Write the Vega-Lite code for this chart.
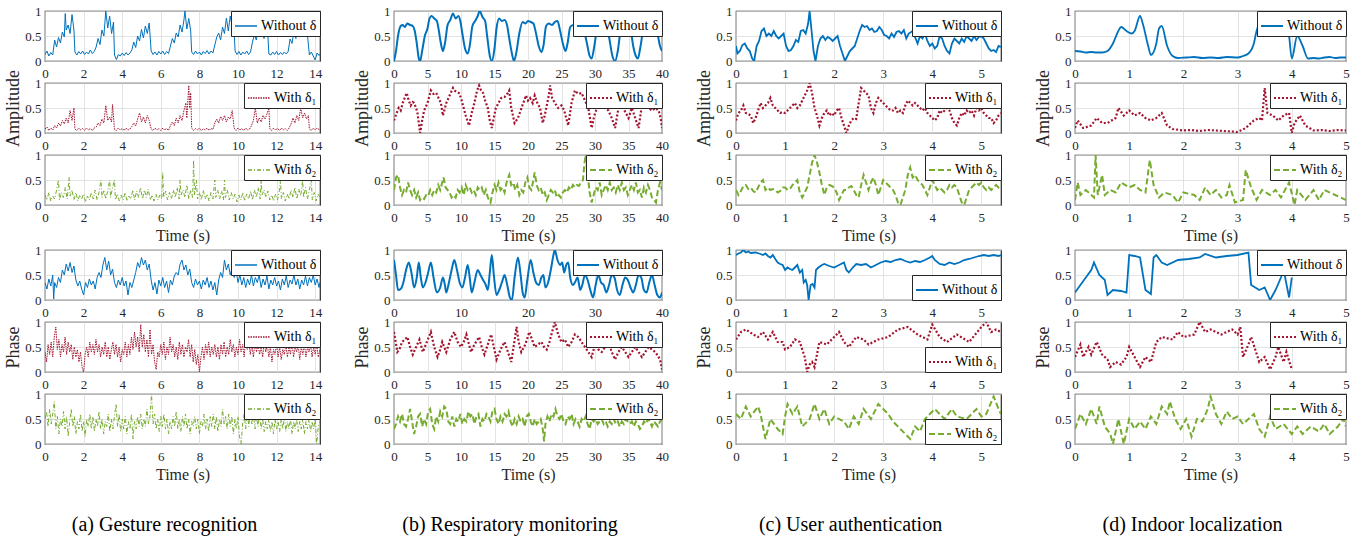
{
"$schema":"https://vega.github.io/schema/vega-lite/v6.json",
"autosize":{"type":"pad"},
"padding":{"left":4,"top":4,"right":0,"bottom":0},
"background":"white",
"config":{
 "font":"Liberation Serif, Times New Roman, DejaVu Serif, serif",
 "view":{"stroke":"#262626","strokeWidth":1.2},
 "axis":{"labelFont":"Liberation Serif, Times New Roman, DejaVu Serif, serif","labelFontSize":13,"labelColor":"#262626","domain":false,"ticks":false,"gridColor":"#dcdcdc","gridWidth":0.8,"labelFlush":false,"labelOverlap":false,"titleFont":"Liberation Serif, Times New Roman, DejaVu Serif, serif","titleFontWeight":"normal","titleColor":"#262626"},
 "axisX":{"labelPadding":6,"titleFontSize":16,"titlePadding":3,"format":"d"},
 "axisY":{"labelPadding":4,"titleFontSize":18,"titlePadding":2,"format":"~r"},
 "legend":{"orient":"top-right","offset":0,"fillColor":"white","strokeColor":"#262626","strokeWidth":1,"padding":3,"labelFont":"Liberation Serif, Times New Roman, DejaVu Serif, serif","labelFontSize":14,"labelColor":"black","symbolType":"stroke","symbolSize":484,"symbolStrokeWidth":2,"cornerRadius":0,"labelOffset":3},
 "title":{"font":"Liberation Serif, Times New Roman, DejaVu Serif, serif","fontSize":20,"fontWeight":"normal","color":"black"}
},
"bounds":"flush",
"columns":4,
"spacing":{"row":22,"column":74},
"resolve":{"scale":{"color":"independent"},"legend":{"color":"independent"}},
"datasets":{
"a1":[{"t":0,"v":0.13},{"t":0.1,"v":0.2},{"t":0.2,"v":0.1},{"t":0.3,"v":0.17},{"t":0.4,"v":0.12},{"t":0.5,"v":0.42},{"t":0.6,"v":0.28},{"t":0.7,"v":0.47},{"t":0.8,"v":0.36},{"t":0.9,"v":0.58},{"t":1.0,"v":0.48},{"t":1.05,"v":0.95},{"t":1.1,"v":0.62},{"t":1.2,"v":0.72},{"t":1.3,"v":0.55},{"t":1.4,"v":0.93},{"t":1.5,"v":0.62},{"t":1.55,"v":0.18},{"t":1.65,"v":0.12},{"t":1.75,"v":0.19},{"t":1.85,"v":0.14},{"t":1.95,"v":0.2},{"t":2.05,"v":0.13},{"t":2.15,"v":0.18},{"t":2.25,"v":0.14},{"t":2.35,"v":0.22},{"t":2.45,"v":0.15},{"t":2.55,"v":0.19},{"t":2.65,"v":0.28},{"t":2.75,"v":0.45},{"t":2.85,"v":0.33},{"t":2.95,"v":0.62},{"t":3.05,"v":0.5},{"t":3.15,"v":1.0},{"t":3.25,"v":0.66},{"t":3.35,"v":0.9},{"t":3.45,"v":0.55},{"t":3.55,"v":0.78},{"t":3.6,"v":0.12},{"t":3.7,"v":0.03},{"t":3.8,"v":0.13},{"t":3.9,"v":0.1},{"t":4.0,"v":0.16},{"t":4.1,"v":0.11},{"t":4.2,"v":0.17},{"t":4.3,"v":0.12},{"t":4.4,"v":0.16},{"t":4.5,"v":0.22},{"t":4.6,"v":0.38},{"t":4.7,"v":0.27},{"t":4.8,"v":0.5},{"t":4.9,"v":0.4},{"t":5.0,"v":0.63},{"t":5.1,"v":0.46},{"t":5.2,"v":0.7},{"t":5.3,"v":0.55},{"t":5.4,"v":0.76},{"t":5.5,"v":0.2},{"t":5.6,"v":0.13},{"t":5.7,"v":0.18},{"t":5.8,"v":0.12},{"t":5.9,"v":0.19},{"t":6.0,"v":0.14},{"t":6.1,"v":0.2},{"t":6.2,"v":0.13},{"t":6.3,"v":0.19},{"t":6.4,"v":0.15},{"t":6.5,"v":0.3},{"t":6.6,"v":0.45},{"t":6.7,"v":0.36},{"t":6.8,"v":0.56},{"t":6.9,"v":0.48},{"t":7.0,"v":0.72},{"t":7.1,"v":0.58},{"t":7.2,"v":0.82},{"t":7.25,"v":1.0},{"t":7.35,"v":0.64},{"t":7.45,"v":0.85},{"t":7.55,"v":0.6},{"t":7.6,"v":0.18},{"t":7.7,"v":0.13},{"t":7.8,"v":0.2},{"t":7.9,"v":0.14},{"t":8.0,"v":0.18},{"t":8.1,"v":0.12},{"t":8.2,"v":0.19},{"t":8.3,"v":0.15},{"t":8.4,"v":0.21},{"t":8.5,"v":0.14},{"t":8.6,"v":0.2},{"t":8.7,"v":0.16},{"t":8.8,"v":0.32},{"t":8.9,"v":0.48},{"t":9.0,"v":0.56},{"t":9.1,"v":0.42},{"t":9.2,"v":0.68},{"t":9.3,"v":0.55},{"t":9.4,"v":0.86},{"t":9.5,"v":0.6},{"t":9.6,"v":0.9},{"t":9.7,"v":0.7},{"t":9.75,"v":1.0},{"t":9.85,"v":0.2},{"t":9.95,"v":0.13},{"t":10.05,"v":0.19},{"t":10.15,"v":0.12},{"t":10.25,"v":0.18},{"t":10.35,"v":0.14},{"t":10.45,"v":0.2},{"t":10.55,"v":0.13},{"t":10.65,"v":0.18},{"t":10.75,"v":0.38},{"t":10.85,"v":0.52},{"t":10.95,"v":0.42},{"t":11.05,"v":0.62},{"t":11.15,"v":0.48},{"t":11.25,"v":0.58},{"t":11.35,"v":0.45},{"t":11.45,"v":0.6},{"t":11.55,"v":0.5},{"t":11.6,"v":0.14},{"t":11.7,"v":0.12},{"t":11.8,"v":0.18},{"t":11.9,"v":0.13},{"t":12.0,"v":0.19},{"t":12.1,"v":0.12},{"t":12.2,"v":0.17},{"t":12.3,"v":0.13},{"t":12.4,"v":0.18},{"t":12.5,"v":0.14},{"t":12.6,"v":0.19},{"t":12.7,"v":0.44},{"t":12.8,"v":0.35},{"t":12.9,"v":0.6},{"t":13.0,"v":0.45},{"t":13.1,"v":0.7},{"t":13.2,"v":0.55},{"t":13.3,"v":0.8},{"t":13.4,"v":0.6},{"t":13.5,"v":0.86},{"t":13.6,"v":0.52},{"t":13.7,"v":0.12},{"t":13.8,"v":0.18},{"t":13.9,"v":0.1},{"t":14.0,"v":0.02},{"t":14.1,"v":0.16},{"t":14.2,"v":0.11},{"t":14.25,"v":0.14}],
"a2":[{"t":0,"v":0.08},{"t":0.1,"v":0.12},{"t":0.2,"v":0.05},{"t":0.3,"v":0.1},{"t":0.4,"v":0.06},{"t":0.5,"v":0.15},{"t":0.6,"v":0.1},{"t":0.7,"v":0.2},{"t":0.8,"v":0.14},{"t":0.9,"v":0.25},{"t":1.0,"v":0.18},{"t":1.1,"v":0.3},{"t":1.2,"v":0.2},{"t":1.3,"v":0.45},{"t":1.4,"v":0.25},{"t":1.5,"v":0.5},{"t":1.55,"v":0.08},{"t":1.65,"v":0.05},{"t":1.75,"v":0.1},{"t":1.85,"v":0.06},{"t":1.95,"v":0.09},{"t":2.05,"v":0.05},{"t":2.15,"v":0.1},{"t":2.25,"v":0.06},{"t":2.35,"v":0.09},{"t":2.45,"v":0.05},{"t":2.55,"v":0.1},{"t":2.65,"v":0.12},{"t":2.75,"v":0.2},{"t":2.85,"v":0.15},{"t":2.95,"v":0.28},{"t":3.05,"v":0.2},{"t":3.15,"v":0.55},{"t":3.25,"v":0.25},{"t":3.35,"v":0.32},{"t":3.45,"v":0.22},{"t":3.5,"v":0.57},{"t":3.6,"v":0.07},{"t":3.7,"v":0.05},{"t":3.8,"v":0.1},{"t":3.9,"v":0.06},{"t":4.0,"v":0.09},{"t":4.1,"v":0.05},{"t":4.2,"v":0.1},{"t":4.3,"v":0.06},{"t":4.4,"v":0.08},{"t":4.5,"v":0.13},{"t":4.6,"v":0.2},{"t":4.7,"v":0.14},{"t":4.8,"v":0.28},{"t":4.9,"v":0.4},{"t":5.0,"v":0.22},{"t":5.1,"v":0.32},{"t":5.2,"v":0.2},{"t":5.3,"v":0.35},{"t":5.4,"v":0.25},{"t":5.5,"v":0.08},{"t":5.6,"v":0.05},{"t":5.7,"v":0.1},{"t":5.8,"v":0.06},{"t":5.9,"v":0.09},{"t":6.0,"v":0.05},{"t":6.1,"v":0.1},{"t":6.2,"v":0.06},{"t":6.3,"v":0.09},{"t":6.4,"v":0.05},{"t":6.5,"v":0.15},{"t":6.6,"v":0.22},{"t":6.7,"v":0.15},{"t":6.8,"v":0.3},{"t":6.9,"v":0.2},{"t":7.0,"v":0.35},{"t":7.1,"v":0.25},{"t":7.2,"v":0.45},{"t":7.3,"v":0.6},{"t":7.35,"v":0.3},{"t":7.45,"v":0.95},{"t":7.5,"v":0.5},{"t":7.55,"v":0.8},{"t":7.6,"v":0.1},{"t":7.7,"v":0.05},{"t":7.8,"v":0.09},{"t":7.9,"v":0.06},{"t":8.0,"v":0.1},{"t":8.1,"v":0.05},{"t":8.2,"v":0.08},{"t":8.3,"v":0.06},{"t":8.4,"v":0.1},{"t":8.5,"v":0.05},{"t":8.6,"v":0.09},{"t":8.7,"v":0.07},{"t":8.8,"v":0.2},{"t":8.9,"v":0.28},{"t":9.0,"v":0.2},{"t":9.1,"v":0.33},{"t":9.2,"v":0.25},{"t":9.3,"v":0.35},{"t":9.4,"v":0.22},{"t":9.5,"v":0.32},{"t":9.6,"v":0.28},{"t":9.7,"v":0.45},{"t":9.8,"v":0.1},{"t":9.9,"v":0.05},{"t":10.0,"v":0.1},{"t":10.1,"v":0.06},{"t":10.2,"v":0.09},{"t":10.3,"v":0.05},{"t":10.4,"v":0.1},{"t":10.5,"v":0.06},{"t":10.6,"v":0.08},{"t":10.7,"v":0.15},{"t":10.8,"v":0.25},{"t":10.9,"v":0.5},{"t":11.0,"v":0.2},{"t":11.1,"v":0.3},{"t":11.2,"v":0.22},{"t":11.3,"v":0.35},{"t":11.4,"v":0.28},{"t":11.5,"v":0.38},{"t":11.6,"v":0.5},{"t":11.65,"v":0.08},{"t":11.75,"v":0.05},{"t":11.85,"v":0.1},{"t":11.95,"v":0.06},{"t":12.05,"v":0.09},{"t":12.15,"v":0.05},{"t":12.25,"v":0.1},{"t":12.35,"v":0.06},{"t":12.45,"v":0.09},{"t":12.55,"v":0.05},{"t":12.65,"v":0.1},{"t":12.75,"v":0.18},{"t":12.85,"v":0.3},{"t":12.95,"v":0.2},{"t":13.05,"v":0.35},{"t":13.15,"v":0.25},{"t":13.25,"v":0.5},{"t":13.35,"v":0.3},{"t":13.45,"v":0.4},{"t":13.55,"v":0.28},{"t":13.65,"v":0.35},{"t":13.7,"v":0.08},{"t":13.8,"v":0.05},{"t":13.9,"v":0.1},{"t":14.0,"v":0.06},{"t":14.1,"v":0.1},{"t":14.2,"v":0.07},{"t":14.25,"v":0.09}],
"a3":[{"t":0,"v":0.2},{"t":0.1,"v":0.1},{"t":0.2,"v":0.25},{"t":0.3,"v":0.08},{"t":0.4,"v":0.18},{"t":0.5,"v":0.12},{"t":0.6,"v":0.3},{"t":0.7,"v":0.5},{"t":0.75,"v":0.1},{"t":0.85,"v":0.25},{"t":0.95,"v":0.15},{"t":1.05,"v":0.35},{"t":1.15,"v":0.12},{"t":1.25,"v":0.55},{"t":1.3,"v":0.18},{"t":1.4,"v":0.3},{"t":1.5,"v":0.1},{"t":1.6,"v":0.25},{"t":1.7,"v":0.08},{"t":1.8,"v":0.2},{"t":1.9,"v":0.12},{"t":2.0,"v":0.22},{"t":2.1,"v":0.06},{"t":2.2,"v":0.18},{"t":2.3,"v":0.1},{"t":2.4,"v":0.25},{"t":2.5,"v":0.12},{"t":2.6,"v":0.3},{"t":2.7,"v":0.1},{"t":2.8,"v":0.25},{"t":2.9,"v":0.5},{"t":2.95,"v":0.15},{"t":3.05,"v":0.3},{"t":3.15,"v":0.12},{"t":3.25,"v":0.28},{"t":3.35,"v":0.5},{"t":3.4,"v":0.15},{"t":3.5,"v":0.35},{"t":3.6,"v":0.5},{"t":3.65,"v":0.1},{"t":3.75,"v":0.22},{"t":3.85,"v":0.08},{"t":3.95,"v":0.2},{"t":4.05,"v":0.1},{"t":4.15,"v":0.25},{"t":4.25,"v":0.08},{"t":4.35,"v":0.18},{"t":4.45,"v":0.12},{"t":4.55,"v":0.3},{"t":4.65,"v":0.1},{"t":4.75,"v":0.28},{"t":4.85,"v":0.15},{"t":4.95,"v":0.35},{"t":5.05,"v":0.12},{"t":5.15,"v":0.3},{"t":5.25,"v":0.15},{"t":5.35,"v":0.32},{"t":5.45,"v":0.1},{"t":5.55,"v":0.2},{"t":5.65,"v":0.08},{"t":5.75,"v":0.22},{"t":5.85,"v":0.1},{"t":5.95,"v":0.2},{"t":6.05,"v":0.12},{"t":6.1,"v":0.65},{"t":6.15,"v":0.15},{"t":6.25,"v":0.28},{"t":6.35,"v":0.1},{"t":6.45,"v":0.25},{"t":6.55,"v":0.12},{"t":6.65,"v":0.3},{"t":6.75,"v":0.15},{"t":6.85,"v":0.35},{"t":6.95,"v":0.12},{"t":7.0,"v":0.5},{"t":7.05,"v":0.2},{"t":7.15,"v":0.3},{"t":7.25,"v":0.15},{"t":7.35,"v":0.4},{"t":7.45,"v":0.12},{"t":7.55,"v":0.3},{"t":7.65,"v":0.15},{"t":7.7,"v":0.9},{"t":7.75,"v":0.2},{"t":7.85,"v":0.5},{"t":7.9,"v":0.12},{"t":8.0,"v":0.25},{"t":8.1,"v":0.1},{"t":8.2,"v":0.3},{"t":8.3,"v":0.12},{"t":8.4,"v":0.22},{"t":8.5,"v":0.08},{"t":8.6,"v":0.25},{"t":8.7,"v":0.12},{"t":8.8,"v":0.5},{"t":8.85,"v":0.15},{"t":8.95,"v":0.3},{"t":9.05,"v":0.12},{"t":9.15,"v":0.28},{"t":9.25,"v":0.1},{"t":9.3,"v":0.5},{"t":9.35,"v":0.15},{"t":9.45,"v":0.3},{"t":9.55,"v":0.1},{"t":9.65,"v":0.25},{"t":9.75,"v":0.12},{"t":9.85,"v":0.22},{"t":9.95,"v":0.06},{"t":10.05,"v":0.2},{"t":10.15,"v":0.1},{"t":10.25,"v":0.25},{"t":10.35,"v":0.08},{"t":10.45,"v":0.22},{"t":10.55,"v":0.12},{"t":10.65,"v":0.28},{"t":10.75,"v":0.1},{"t":10.85,"v":0.3},{"t":10.95,"v":0.15},{"t":11.05,"v":0.35},{"t":11.15,"v":0.12},{"t":11.2,"v":0.5},{"t":11.25,"v":0.2},{"t":11.35,"v":0.3},{"t":11.45,"v":0.15},{"t":11.55,"v":0.28},{"t":11.65,"v":0.1},{"t":11.75,"v":0.2},{"t":11.85,"v":0.08},{"t":11.95,"v":0.22},{"t":12.05,"v":0.1},{"t":12.15,"v":0.3},{"t":12.2,"v":0.5},{"t":12.25,"v":0.12},{"t":12.35,"v":0.25},{"t":12.45,"v":0.08},{"t":12.55,"v":0.22},{"t":12.65,"v":0.12},{"t":12.75,"v":0.3},{"t":12.85,"v":0.15},{"t":12.95,"v":0.35},{"t":13.05,"v":0.12},{"t":13.15,"v":0.32},{"t":13.25,"v":0.18},{"t":13.35,"v":0.5},{"t":13.4,"v":0.15},{"t":13.5,"v":0.35},{"t":13.6,"v":0.12},{"t":13.7,"v":0.3},{"t":13.8,"v":0.5},{"t":13.85,"v":0.1},{"t":13.95,"v":0.25},{"t":14.05,"v":0.08},{"t":14.15,"v":0.22},{"t":14.25,"v":0.15}],
"a4":[{"t":0,"v":0.35},{"t":0.1,"v":0.22},{"t":0.2,"v":0.42},{"t":0.3,"v":0.28},{"t":0.4,"v":0.5},{"t":0.45,"v":0.02},{"t":0.5,"v":0.35},{"t":0.6,"v":0.25},{"t":0.7,"v":0.45},{"t":0.8,"v":0.35},{"t":0.9,"v":0.6},{"t":1.0,"v":0.5},{"t":1.1,"v":0.72},{"t":1.2,"v":0.58},{"t":1.3,"v":0.75},{"t":1.4,"v":0.55},{"t":1.5,"v":0.68},{"t":1.6,"v":0.4},{"t":1.7,"v":0.28},{"t":1.8,"v":0.38},{"t":1.9,"v":0.22},{"t":2.0,"v":0.1},{"t":2.1,"v":0.35},{"t":2.2,"v":0.25},{"t":2.3,"v":0.42},{"t":2.4,"v":0.3},{"t":2.5,"v":0.38},{"t":2.6,"v":0.22},{"t":2.7,"v":0.45},{"t":2.8,"v":0.55},{"t":2.9,"v":0.45},{"t":3.0,"v":0.7},{"t":3.1,"v":0.85},{"t":3.2,"v":0.6},{"t":3.3,"v":0.78},{"t":3.4,"v":0.5},{"t":3.5,"v":0.62},{"t":3.6,"v":0.35},{"t":3.7,"v":0.25},{"t":3.8,"v":0.4},{"t":3.9,"v":0.3},{"t":4.0,"v":0.45},{"t":4.1,"v":0.28},{"t":4.2,"v":0.38},{"t":4.3,"v":0.1},{"t":4.4,"v":0.35},{"t":4.5,"v":0.25},{"t":4.6,"v":0.4},{"t":4.7,"v":0.55},{"t":4.8,"v":0.75},{"t":4.9,"v":0.65},{"t":5.0,"v":0.85},{"t":5.1,"v":0.7},{"t":5.2,"v":0.8},{"t":5.3,"v":0.6},{"t":5.4,"v":0.72},{"t":5.5,"v":0.4},{"t":5.6,"v":0.2},{"t":5.7,"v":0.35},{"t":5.8,"v":0.12},{"t":5.9,"v":0.4},{"t":6.0,"v":0.28},{"t":6.1,"v":0.45},{"t":6.2,"v":0.25},{"t":6.3,"v":0.38},{"t":6.4,"v":0.15},{"t":6.5,"v":0.4},{"t":6.6,"v":0.3},{"t":6.7,"v":0.48},{"t":6.8,"v":0.55},{"t":6.9,"v":0.5},{"t":7.0,"v":0.72},{"t":7.1,"v":0.8},{"t":7.2,"v":0.6},{"t":7.3,"v":0.7},{"t":7.4,"v":0.5},{"t":7.5,"v":0.62},{"t":7.6,"v":0.35},{"t":7.7,"v":0.25},{"t":7.8,"v":0.42},{"t":7.9,"v":0.3},{"t":8.0,"v":0.38},{"t":8.1,"v":0.22},{"t":8.2,"v":0.4},{"t":8.3,"v":0.3},{"t":8.4,"v":0.45},{"t":8.5,"v":0.25},{"t":8.6,"v":0.38},{"t":8.7,"v":0.2},{"t":8.8,"v":0.35},{"t":8.9,"v":0.1},{"t":9.0,"v":0.4},{"t":9.1,"v":0.55},{"t":9.2,"v":0.45},{"t":9.3,"v":0.8},{"t":9.4,"v":0.6},{"t":9.5,"v":0.72},{"t":9.6,"v":0.5},{"t":9.7,"v":0.65},{"t":9.8,"v":0.45},{"t":9.9,"v":0.6},{"t":10.0,"v":0.35},{"t":10.1,"v":0.5},{"t":10.2,"v":0.3},{"t":10.3,"v":0.45},{"t":10.4,"v":0.25},{"t":10.5,"v":0.42},{"t":10.6,"v":0.3},{"t":10.7,"v":0.5},{"t":10.8,"v":0.28},{"t":10.9,"v":0.45},{"t":11.0,"v":0.35},{"t":11.1,"v":0.5},{"t":11.2,"v":0.25},{"t":11.3,"v":0.42},{"t":11.4,"v":0.3},{"t":11.5,"v":0.48},{"t":11.6,"v":0.22},{"t":11.7,"v":0.4},{"t":11.8,"v":0.3},{"t":11.9,"v":0.45},{"t":12.0,"v":0.28},{"t":12.1,"v":0.38},{"t":12.2,"v":0.2},{"t":12.3,"v":0.42},{"t":12.4,"v":0.3},{"t":12.5,"v":0.48},{"t":12.6,"v":0.25},{"t":12.7,"v":0.4},{"t":12.8,"v":0.32},{"t":12.9,"v":0.5},{"t":13.0,"v":0.3},{"t":13.1,"v":0.42},{"t":13.2,"v":0.22},{"t":13.3,"v":0.4},{"t":13.4,"v":0.3},{"t":13.5,"v":0.48},{"t":13.6,"v":0.28},{"t":13.7,"v":0.45},{"t":13.8,"v":0.35},{"t":13.9,"v":0.5},{"t":14.0,"v":0.3},{"t":14.1,"v":0.42},{"t":14.2,"v":0.25},{"t":14.25,"v":0.35}],
"a5":[{"t":0,"v":0.4},{"t":0.08,"v":0.2},{"t":0.16,"v":0.55},{"t":0.24,"v":0.35},{"t":0.32,"v":0.6},{"t":0.4,"v":0.3},{"t":0.48,"v":0.7},{"t":0.56,"v":0.9},{"t":0.64,"v":0.45},{"t":0.72,"v":0.65},{"t":0.8,"v":0.3},{"t":0.88,"v":0.55},{"t":0.96,"v":0.4},{"t":1.04,"v":0.7},{"t":1.12,"v":0.35},{"t":1.2,"v":0.6},{"t":1.28,"v":0.4},{"t":1.36,"v":0.55},{"t":1.44,"v":0.25},{"t":1.52,"v":0.5},{"t":1.6,"v":0.3},{"t":1.68,"v":0.45},{"t":1.76,"v":0.2},{"t":1.84,"v":0.4},{"t":1.92,"v":0.1},{"t":2.0,"v":0.0},{"t":2.08,"v":0.35},{"t":2.16,"v":0.5},{"t":2.24,"v":0.3},{"t":2.32,"v":0.6},{"t":2.4,"v":0.4},{"t":2.48,"v":0.55},{"t":2.56,"v":0.35},{"t":2.64,"v":0.65},{"t":2.72,"v":0.4},{"t":2.8,"v":0.55},{"t":2.88,"v":0.3},{"t":2.96,"v":0.5},{"t":3.04,"v":0.35},{"t":3.12,"v":0.6},{"t":3.2,"v":0.3},{"t":3.28,"v":0.5},{"t":3.36,"v":0.25},{"t":3.44,"v":0.45},{"t":3.52,"v":0.6},{"t":3.6,"v":0.35},{"t":3.68,"v":0.55},{"t":3.76,"v":0.3},{"t":3.84,"v":0.5},{"t":3.92,"v":0.2},{"t":4.0,"v":0.45},{"t":4.08,"v":0.35},{"t":4.16,"v":0.6},{"t":4.24,"v":0.3},{"t":4.32,"v":0.55},{"t":4.4,"v":0.35},{"t":4.48,"v":0.7},{"t":4.56,"v":0.45},{"t":4.64,"v":0.8},{"t":4.72,"v":0.5},{"t":4.8,"v":0.7},{"t":4.88,"v":0.4},{"t":4.96,"v":0.95},{"t":5.04,"v":0.5},{"t":5.12,"v":0.75},{"t":5.2,"v":0.4},{"t":5.28,"v":0.65},{"t":5.36,"v":0.3},{"t":5.44,"v":0.85},{"t":5.52,"v":0.35},{"t":5.6,"v":0.55},{"t":5.68,"v":0.2},{"t":5.76,"v":0.05},{"t":5.84,"v":0.4},{"t":5.92,"v":0.3},{"t":6.0,"v":0.55},{"t":6.08,"v":0.35},{"t":6.16,"v":0.6},{"t":6.24,"v":0.25},{"t":6.32,"v":0.5},{"t":6.4,"v":0.35},{"t":6.48,"v":0.7},{"t":6.56,"v":0.4},{"t":6.64,"v":0.55},{"t":6.72,"v":0.3},{"t":6.8,"v":0.5},{"t":6.88,"v":0.25},{"t":6.96,"v":0.6},{"t":7.04,"v":0.35},{"t":7.12,"v":0.55},{"t":7.2,"v":0.3},{"t":7.28,"v":0.5},{"t":7.36,"v":0.4},{"t":7.44,"v":0.65},{"t":7.52,"v":0.3},{"t":7.6,"v":0.55},{"t":7.68,"v":0.2},{"t":7.76,"v":0.45},{"t":7.84,"v":0.15},{"t":7.92,"v":0.35},{"t":8.0,"v":0.0},{"t":8.08,"v":0.3},{"t":8.16,"v":0.5},{"t":8.24,"v":0.25},{"t":8.32,"v":0.55},{"t":8.4,"v":0.35},{"t":8.48,"v":0.6},{"t":8.56,"v":0.3},{"t":8.64,"v":0.5},{"t":8.72,"v":0.35},{"t":8.8,"v":0.55},{"t":8.88,"v":0.3},{"t":8.96,"v":0.5},{"t":9.04,"v":0.25},{"t":9.12,"v":0.55},{"t":9.2,"v":0.35},{"t":9.28,"v":0.6},{"t":9.36,"v":0.3},{"t":9.44,"v":0.5},{"t":9.52,"v":0.35},{"t":9.6,"v":0.65},{"t":9.68,"v":0.4},{"t":9.76,"v":0.55},{"t":9.84,"v":0.3},{"t":9.92,"v":0.5},{"t":10.0,"v":0.35},{"t":10.08,"v":0.65},{"t":10.16,"v":0.4},{"t":10.24,"v":0.55},{"t":10.32,"v":0.3},{"t":10.4,"v":0.7},{"t":10.48,"v":0.45},{"t":10.56,"v":0.6},{"t":10.64,"v":0.35},{"t":10.72,"v":0.55},{"t":10.8,"v":0.3},{"t":10.88,"v":0.6},{"t":10.96,"v":0.4},{"t":11.04,"v":0.55},{"t":11.12,"v":0.35},{"t":11.2,"v":0.5},{"t":11.28,"v":0.3},{"t":11.36,"v":0.6},{"t":11.44,"v":0.4},{"t":11.52,"v":0.55},{"t":11.6,"v":0.3},{"t":11.68,"v":0.5},{"t":11.76,"v":0.2},{"t":11.84,"v":0.45},{"t":11.92,"v":0.35},{"t":12.0,"v":0.55},{"t":12.08,"v":0.3},{"t":12.16,"v":0.5},{"t":12.24,"v":0.25},{"t":12.32,"v":0.45},{"t":12.4,"v":0.35},{"t":12.48,"v":0.55},{"t":12.56,"v":0.3},{"t":12.64,"v":0.5},{"t":12.72,"v":0.35},{"t":12.8,"v":0.6},{"t":12.88,"v":0.3},{"t":12.96,"v":0.5},{"t":13.04,"v":0.4},{"t":13.12,"v":0.55},{"t":13.2,"v":0.25},{"t":13.28,"v":0.5},{"t":13.36,"v":0.35},{"t":13.44,"v":0.55},{"t":13.52,"v":0.3},{"t":13.6,"v":0.5},{"t":13.68,"v":0.4},{"t":13.76,"v":0.55},{"t":13.84,"v":0.3},{"t":13.92,"v":0.5},{"t":14.0,"v":0.35},{"t":14.08,"v":0.55},{"t":14.16,"v":0.3},{"t":14.25,"v":0.45}],
"a6":[{"t":0,"v":0.5},{"t":0.08,"v":0.65},{"t":0.16,"v":0.35},{"t":0.24,"v":0.7},{"t":0.32,"v":0.4},{"t":0.4,"v":0.6},{"t":0.48,"v":0.85},{"t":0.56,"v":0.3},{"t":0.64,"v":0.55},{"t":0.72,"v":0.2},{"t":0.8,"v":0.5},{"t":0.88,"v":0.35},{"t":0.96,"v":0.65},{"t":1.04,"v":0.3},{"t":1.12,"v":0.55},{"t":1.2,"v":0.15},{"t":1.28,"v":0.45},{"t":1.36,"v":0.7},{"t":1.44,"v":0.35},{"t":1.52,"v":0.55},{"t":1.6,"v":0.2},{"t":1.68,"v":0.45},{"t":1.76,"v":0.3},{"t":1.84,"v":0.6},{"t":1.92,"v":0.25},{"t":2.0,"v":0.45},{"t":2.08,"v":0.15},{"t":2.16,"v":0.5},{"t":2.24,"v":0.35},{"t":2.32,"v":0.6},{"t":2.4,"v":0.3},{"t":2.48,"v":0.55},{"t":2.56,"v":0.25},{"t":2.64,"v":0.5},{"t":2.72,"v":0.35},{"t":2.8,"v":0.65},{"t":2.88,"v":0.3},{"t":2.96,"v":0.5},{"t":3.04,"v":0.2},{"t":3.12,"v":0.45},{"t":3.2,"v":0.35},{"t":3.28,"v":0.6},{"t":3.36,"v":0.25},{"t":3.44,"v":0.5},{"t":3.52,"v":0.3},{"t":3.6,"v":0.55},{"t":3.68,"v":0.8},{"t":3.76,"v":0.35},{"t":3.84,"v":0.6},{"t":3.92,"v":0.25},{"t":4.0,"v":0.5},{"t":4.08,"v":0.3},{"t":4.16,"v":0.55},{"t":4.24,"v":0.2},{"t":4.32,"v":0.45},{"t":4.4,"v":0.3},{"t":4.48,"v":0.6},{"t":4.56,"v":0.1},{"t":4.64,"v":0.45},{"t":4.72,"v":0.3},{"t":4.8,"v":0.55},{"t":4.88,"v":0.35},{"t":4.96,"v":0.6},{"t":5.04,"v":0.3},{"t":5.12,"v":0.5},{"t":5.2,"v":0.35},{"t":5.28,"v":0.7},{"t":5.36,"v":0.4},{"t":5.44,"v":0.55},{"t":5.52,"v":1.0},{"t":5.6,"v":0.4},{"t":5.68,"v":0.6},{"t":5.76,"v":0.3},{"t":5.84,"v":0.5},{"t":5.92,"v":0.25},{"t":6.0,"v":0.55},{"t":6.08,"v":0.35},{"t":6.16,"v":0.6},{"t":6.24,"v":0.3},{"t":6.32,"v":0.5},{"t":6.4,"v":0.2},{"t":6.48,"v":0.45},{"t":6.56,"v":0.3},{"t":6.64,"v":0.55},{"t":6.72,"v":0.35},{"t":6.8,"v":0.65},{"t":6.88,"v":0.3},{"t":6.96,"v":0.5},{"t":7.04,"v":0.25},{"t":7.12,"v":0.55},{"t":7.2,"v":0.35},{"t":7.28,"v":0.6},{"t":7.36,"v":0.3},{"t":7.44,"v":0.5},{"t":7.52,"v":0.2},{"t":7.6,"v":0.45},{"t":7.68,"v":0.35},{"t":7.76,"v":0.55},{"t":7.84,"v":0.3},{"t":7.92,"v":0.5},{"t":8.0,"v":0.2},{"t":8.08,"v":0.45},{"t":8.16,"v":0.35},{"t":8.24,"v":0.6},{"t":8.32,"v":0.3},{"t":8.4,"v":0.5},{"t":8.48,"v":0.25},{"t":8.56,"v":0.55},{"t":8.64,"v":0.35},{"t":8.72,"v":0.6},{"t":8.8,"v":0.3},{"t":8.88,"v":0.55},{"t":8.96,"v":0.25},{"t":9.04,"v":0.5},{"t":9.12,"v":0.35},{"t":9.2,"v":0.7},{"t":9.28,"v":0.4},{"t":9.36,"v":0.55},{"t":9.44,"v":0.3},{"t":9.52,"v":0.6},{"t":9.6,"v":0.35},{"t":9.68,"v":0.55},{"t":9.76,"v":0.2},{"t":9.84,"v":0.5},{"t":9.92,"v":0.3},{"t":10.0,"v":0.55},{"t":10.08,"v":0.15},{"t":10.16,"v":0.0},{"t":10.24,"v":0.4},{"t":10.32,"v":0.6},{"t":10.4,"v":0.3},{"t":10.48,"v":0.65},{"t":10.56,"v":0.35},{"t":10.64,"v":0.7},{"t":10.72,"v":0.4},{"t":10.8,"v":0.6},{"t":10.88,"v":0.3},{"t":10.96,"v":0.55},{"t":11.04,"v":0.35},{"t":11.12,"v":0.6},{"t":11.2,"v":0.3},{"t":11.28,"v":0.5},{"t":11.36,"v":0.25},{"t":11.44,"v":0.45},{"t":11.52,"v":0.3},{"t":11.6,"v":0.5},{"t":11.68,"v":0.25},{"t":11.76,"v":0.45},{"t":11.84,"v":0.2},{"t":11.92,"v":0.5},{"t":12.0,"v":0.3},{"t":12.08,"v":0.45},{"t":12.16,"v":0.25},{"t":12.24,"v":0.5},{"t":12.32,"v":0.3},{"t":12.4,"v":0.55},{"t":12.48,"v":0.25},{"t":12.56,"v":0.45},{"t":12.64,"v":0.3},{"t":12.72,"v":0.5},{"t":12.8,"v":0.2},{"t":12.88,"v":0.45},{"t":12.96,"v":0.3},{"t":13.04,"v":0.5},{"t":13.12,"v":0.25},{"t":13.2,"v":0.45},{"t":13.28,"v":0.3},{"t":13.36,"v":0.5},{"t":13.44,"v":0.2},{"t":13.52,"v":0.45},{"t":13.6,"v":0.3},{"t":13.68,"v":0.5},{"t":13.76,"v":0.25},{"t":13.84,"v":0.45},{"t":13.92,"v":0.3},{"t":14.0,"v":0.5},{"t":14.08,"v":0.0},{"t":14.16,"v":0.35},{"t":14.25,"v":0.45}],
"b1":[{"t":0,"v":0.0},{"t":0.3,"v":0.2},{"t":0.6,"v":0.5},{"t":1.0,"v":0.7},{"t":1.3,"v":0.72},{"t":1.6,"v":0.68},{"t":2.0,"v":0.75},{"t":2.4,"v":0.72},{"t":2.8,"v":0.7},{"t":3.1,"v":0.6},{"t":3.4,"v":0.35},{"t":3.7,"v":0.05},{"t":3.9,"v":0.0},{"t":4.2,"v":0.2},{"t":4.6,"v":0.5},{"t":5.0,"v":0.65},{"t":5.3,"v":0.85},{"t":5.6,"v":0.9},{"t":6.0,"v":0.85},{"t":6.4,"v":0.8},{"t":6.7,"v":0.6},{"t":7.0,"v":0.35},{"t":7.3,"v":0.2},{"t":7.6,"v":0.35},{"t":8.0,"v":0.72},{"t":8.4,"v":0.82},{"t":8.8,"v":0.95},{"t":9.2,"v":0.85},{"t":9.6,"v":0.9},{"t":9.9,"v":0.8},{"t":10.2,"v":0.55},{"t":10.6,"v":0.25},{"t":11.0,"v":0.15},{"t":11.3,"v":0.3},{"t":11.7,"v":0.7},{"t":12.1,"v":0.8},{"t":12.5,"v":0.9},{"t":12.8,"v":1.0},{"t":13.2,"v":0.88},{"t":13.6,"v":0.8},{"t":13.9,"v":0.5},{"t":14.3,"v":0.1},{"t":14.6,"v":0.0},{"t":15.0,"v":0.25},{"t":15.3,"v":0.65},{"t":15.7,"v":0.85},{"t":16.1,"v":0.8},{"t":16.5,"v":0.82},{"t":16.9,"v":0.7},{"t":17.2,"v":0.45},{"t":17.6,"v":0.15},{"t":17.9,"v":0.0},{"t":18.3,"v":0.2},{"t":18.7,"v":0.55},{"t":19.2,"v":0.78},{"t":19.6,"v":0.75},{"t":20.0,"v":0.8},{"t":20.4,"v":0.78},{"t":20.8,"v":0.75},{"t":21.2,"v":0.55},{"t":21.6,"v":0.3},{"t":22.0,"v":0.18},{"t":22.3,"v":0.3},{"t":22.7,"v":0.7},{"t":23.1,"v":0.75},{"t":23.6,"v":0.72},{"t":24.0,"v":0.78},{"t":24.4,"v":0.8},{"t":24.8,"v":0.6},{"t":25.2,"v":0.35},{"t":25.6,"v":0.2},{"t":25.9,"v":0.35},{"t":26.3,"v":0.68},{"t":26.7,"v":0.72},{"t":27.2,"v":0.75},{"t":27.6,"v":0.8},{"t":28.0,"v":0.78},{"t":28.4,"v":0.6},{"t":28.8,"v":0.35},{"t":29.2,"v":0.1},{"t":29.5,"v":0.05},{"t":29.9,"v":0.3},{"t":30.3,"v":0.65},{"t":30.8,"v":0.8},{"t":31.3,"v":0.8},{"t":31.8,"v":0.7},{"t":32.2,"v":0.4},{"t":32.6,"v":0.1},{"t":33.0,"v":0.0},{"t":33.4,"v":0.2},{"t":33.8,"v":0.6},{"t":34.3,"v":0.8},{"t":34.8,"v":0.8},{"t":35.3,"v":0.65},{"t":35.7,"v":0.3},{"t":36.1,"v":0.1},{"t":36.4,"v":0.05},{"t":36.8,"v":0.3},{"t":37.3,"v":0.7},{"t":37.8,"v":0.8},{"t":38.4,"v":0.8},{"t":39.0,"v":0.7},{"t":39.4,"v":0.5},{"t":39.7,"v":0.3},{"t":40.0,"v":0.2}],
"b2":[{"t":0,"v":0.25},{"t":0.4,"v":0.4},{"t":0.7,"v":0.5},{"t":1.0,"v":0.45},{"t":1.3,"v":0.6},{"t":1.6,"v":0.7},{"t":1.9,"v":0.8},{"t":2.2,"v":0.65},{"t":2.5,"v":0.55},{"t":2.8,"v":0.62},{"t":3.0,"v":0.6},{"t":3.3,"v":0.5},{"t":3.5,"v":0.4},{"t":3.9,"v":0.0},{"t":4.2,"v":0.25},{"t":4.5,"v":0.45},{"t":5.0,"v":0.6},{"t":5.5,"v":0.85},{"t":5.9,"v":0.78},{"t":6.3,"v":0.8},{"t":7.0,"v":0.6},{"t":7.3,"v":0.35},{"t":7.8,"v":0.6},{"t":8.3,"v":0.75},{"t":8.8,"v":0.9},{"t":9.0,"v":0.85},{"t":9.4,"v":0.82},{"t":9.7,"v":0.8},{"t":10.0,"v":0.7},{"t":10.4,"v":0.5},{"t":10.7,"v":0.35},{"t":11.2,"v":0.15},{"t":11.6,"v":0.4},{"t":12.0,"v":0.6},{"t":12.4,"v":0.85},{"t":12.7,"v":0.95},{"t":13.0,"v":0.85},{"t":13.3,"v":0.8},{"t":13.6,"v":0.65},{"t":14.0,"v":0.5},{"t":14.3,"v":0.25},{"t":14.6,"v":0.1},{"t":15.2,"v":0.5},{"t":15.6,"v":0.6},{"t":16.0,"v":0.7},{"t":16.5,"v":0.72},{"t":17.0,"v":0.8},{"t":17.2,"v":0.85},{"t":17.5,"v":0.5},{"t":18.0,"v":0.2},{"t":18.5,"v":0.3},{"t":18.9,"v":0.45},{"t":19.3,"v":0.6},{"t":19.7,"v":0.75},{"t":20.0,"v":0.65},{"t":20.3,"v":0.7},{"t":20.7,"v":0.6},{"t":21.0,"v":0.75},{"t":21.4,"v":0.6},{"t":21.8,"v":0.5},{"t":22.2,"v":0.2},{"t":22.5,"v":0.35},{"t":22.8,"v":0.55},{"t":23.1,"v":0.75},{"t":23.3,"v":0.95},{"t":23.6,"v":0.7},{"t":24.0,"v":0.6},{"t":24.5,"v":0.5},{"t":25.0,"v":0.55},{"t":25.4,"v":0.45},{"t":25.7,"v":0.3},{"t":26.0,"v":0.15},{"t":26.5,"v":0.6},{"t":27.0,"v":0.85},{"t":27.5,"v":0.78},{"t":28.0,"v":0.8},{"t":28.5,"v":0.65},{"t":29.0,"v":0.5},{"t":29.5,"v":0.1},{"t":29.9,"v":0.35},{"t":30.3,"v":0.5},{"t":31.0,"v":0.55},{"t":31.5,"v":0.5},{"t":32.0,"v":0.45},{"t":32.5,"v":0.3},{"t":33.0,"v":0.1},{"t":33.5,"v":0.5},{"t":34.2,"v":0.5},{"t":34.6,"v":0.4},{"t":35.0,"v":0.3},{"t":35.5,"v":0.5},{"t":36.0,"v":0.3},{"t":36.5,"v":0.1},{"t":37.0,"v":0.55},{"t":37.5,"v":0.5},{"t":38.0,"v":0.5},{"t":38.5,"v":0.45},{"t":39.0,"v":0.5},{"t":39.5,"v":0.45},{"t":39.8,"v":0.3},{"t":40.0,"v":0.1}],
"b3":[{"t":0,"v":0.3},{"t":0.3,"v":0.55},{"t":0.6,"v":0.6},{"t":0.9,"v":0.35},{"t":1.2,"v":0.2},{"t":1.5,"v":0.3},{"t":1.8,"v":0.25},{"t":2.1,"v":0.45},{"t":2.4,"v":0.3},{"t":2.7,"v":0.2},{"t":3.0,"v":0.3},{"t":3.3,"v":0.15},{"t":3.6,"v":0.25},{"t":3.9,"v":0.1},{"t":4.2,"v":0.15},{"t":4.5,"v":0.12},{"t":4.8,"v":0.2},{"t":5.1,"v":0.18},{"t":5.4,"v":0.3},{"t":5.7,"v":0.2},{"t":6.0,"v":0.3},{"t":6.3,"v":0.25},{"t":6.6,"v":0.4},{"t":6.9,"v":0.3},{"t":7.2,"v":0.45},{"t":7.4,"v":0.55},{"t":7.7,"v":0.35},{"t":8.0,"v":0.3},{"t":8.3,"v":0.25},{"t":8.6,"v":0.15},{"t":8.9,"v":0.2},{"t":9.2,"v":0.15},{"t":9.5,"v":0.3},{"t":9.8,"v":0.25},{"t":10.1,"v":0.35},{"t":10.4,"v":0.2},{"t":10.7,"v":0.4},{"t":11.0,"v":0.3},{"t":11.3,"v":0.35},{"t":11.6,"v":0.25},{"t":11.9,"v":0.3},{"t":12.2,"v":0.2},{"t":12.5,"v":0.35},{"t":12.8,"v":0.3},{"t":13.1,"v":0.35},{"t":13.4,"v":0.2},{"t":13.7,"v":0.3},{"t":14.0,"v":0.15},{"t":14.4,"v":0.05},{"t":14.7,"v":0.25},{"t":15.0,"v":0.4},{"t":15.3,"v":0.3},{"t":15.6,"v":0.45},{"t":15.9,"v":0.3},{"t":16.2,"v":0.35},{"t":16.5,"v":0.25},{"t":16.8,"v":0.45},{"t":17.2,"v":0.6},{"t":17.5,"v":0.4},{"t":17.8,"v":0.45},{"t":18.1,"v":0.3},{"t":18.4,"v":0.4},{"t":18.7,"v":0.2},{"t":19.0,"v":0.3},{"t":19.3,"v":0.25},{"t":19.6,"v":0.45},{"t":19.9,"v":0.55},{"t":20.2,"v":0.35},{"t":20.5,"v":0.3},{"t":20.8,"v":0.5},{"t":21.0,"v":0.65},{"t":21.3,"v":0.4},{"t":21.6,"v":0.3},{"t":21.9,"v":0.35},{"t":22.2,"v":0.2},{"t":22.5,"v":0.25},{"t":22.8,"v":0.1},{"t":23.1,"v":0.2},{"t":23.4,"v":0.3},{"t":23.7,"v":0.25},{"t":24.0,"v":0.3},{"t":24.3,"v":0.15},{"t":24.6,"v":0.2},{"t":24.9,"v":0.15},{"t":25.2,"v":0.25},{"t":25.5,"v":0.3},{"t":25.8,"v":0.25},{"t":26.1,"v":0.35},{"t":26.4,"v":0.3},{"t":26.7,"v":0.4},{"t":27.0,"v":0.35},{"t":27.3,"v":0.4},{"t":27.6,"v":0.38},{"t":27.9,"v":0.45},{"t":28.2,"v":0.5},{"t":28.4,"v":0.8},{"t":28.6,"v":1.0},{"t":28.8,"v":0.7},{"t":29.0,"v":0.5},{"t":29.2,"v":0.25},{"t":29.5,"v":0.05},{"t":29.8,"v":0.2},{"t":30.1,"v":0.35},{"t":30.4,"v":0.3},{"t":30.7,"v":0.45},{"t":31.0,"v":0.2},{"t":31.3,"v":0.3},{"t":31.6,"v":0.4},{"t":31.9,"v":0.3},{"t":32.2,"v":0.45},{"t":32.5,"v":0.3},{"t":32.8,"v":0.35},{"t":33.1,"v":0.25},{"t":33.4,"v":0.4},{"t":33.7,"v":0.3},{"t":34.0,"v":0.45},{"t":34.3,"v":0.3},{"t":34.6,"v":0.35},{"t":34.9,"v":0.2},{"t":35.2,"v":0.3},{"t":35.5,"v":0.4},{"t":35.8,"v":0.3},{"t":36.1,"v":0.45},{"t":36.4,"v":0.25},{"t":36.7,"v":0.3},{"t":37.0,"v":0.15},{"t":37.3,"v":0.35},{"t":37.6,"v":0.25},{"t":37.9,"v":0.4},{"t":38.2,"v":0.3},{"t":38.5,"v":0.15},{"t":38.8,"v":0.1},{"t":39.1,"v":0.05},{"t":39.4,"v":0.3},{"t":39.7,"v":0.45},{"t":40.0,"v":0.3}],
"b4":[{"t":0,"v":0.8},{"t":0.3,"v":0.5},{"t":0.6,"v":0.2},{"t":1.0,"v":0.22},{"t":1.4,"v":0.35},{"t":1.8,"v":0.6},{"t":2.2,"v":0.75},{"t":2.6,"v":0.55},{"t":3.0,"v":0.25},{"t":3.4,"v":0.45},{"t":3.7,"v":0.75},{"t":4.0,"v":0.45},{"t":4.3,"v":0.25},{"t":4.7,"v":0.35},{"t":5.1,"v":0.55},{"t":5.5,"v":0.75},{"t":5.9,"v":0.45},{"t":6.4,"v":0.15},{"t":6.9,"v":0.25},{"t":7.3,"v":0.45},{"t":7.6,"v":0.3},{"t":7.8,"v":0.15},{"t":8.2,"v":0.35},{"t":8.6,"v":0.6},{"t":9.0,"v":0.8},{"t":9.4,"v":0.6},{"t":9.8,"v":0.35},{"t":10.2,"v":0.25},{"t":10.6,"v":0.45},{"t":11.0,"v":0.7},{"t":11.3,"v":0.45},{"t":11.6,"v":0.15},{"t":12.0,"v":0.35},{"t":12.5,"v":0.6},{"t":12.9,"v":0.5},{"t":13.3,"v":0.4},{"t":13.7,"v":0.3},{"t":14.0,"v":0.2},{"t":14.3,"v":0.55},{"t":14.6,"v":0.9},{"t":14.9,"v":0.5},{"t":15.3,"v":0.1},{"t":15.7,"v":0.2},{"t":16.1,"v":0.35},{"t":16.5,"v":0.5},{"t":16.9,"v":0.3},{"t":17.3,"v":0.05},{"t":17.6,"v":0.0},{"t":18.0,"v":0.45},{"t":18.5,"v":0.85},{"t":18.9,"v":0.5},{"t":19.2,"v":0.15},{"t":19.5,"v":0.05},{"t":19.9,"v":0.4},{"t":20.4,"v":0.8},{"t":20.8,"v":0.55},{"t":21.2,"v":0.35},{"t":21.6,"v":0.3},{"t":22.0,"v":0.45},{"t":22.3,"v":0.5},{"t":22.6,"v":0.25},{"t":23.0,"v":0.35},{"t":23.4,"v":0.6},{"t":23.8,"v":0.9},{"t":24.0,"v":1.0},{"t":24.4,"v":0.8},{"t":24.8,"v":0.7},{"t":25.1,"v":0.75},{"t":25.4,"v":0.55},{"t":25.7,"v":0.7},{"t":26.0,"v":0.75},{"t":26.3,"v":0.45},{"t":26.7,"v":0.3},{"t":27.0,"v":0.35},{"t":27.4,"v":0.45},{"t":27.8,"v":0.2},{"t":28.1,"v":0.3},{"t":28.5,"v":0.5},{"t":28.9,"v":0.4},{"t":29.3,"v":0.2},{"t":29.7,"v":0.05},{"t":30.1,"v":0.3},{"t":30.5,"v":0.5},{"t":30.9,"v":0.35},{"t":31.3,"v":0.3},{"t":31.7,"v":0.15},{"t":32.1,"v":0.3},{"t":32.5,"v":0.5},{"t":32.9,"v":0.45},{"t":33.3,"v":0.2},{"t":33.7,"v":0.1},{"t":34.1,"v":0.3},{"t":34.5,"v":0.45},{"t":34.9,"v":0.4},{"t":35.3,"v":0.25},{"t":35.7,"v":0.15},{"t":36.1,"v":0.3},{"t":36.5,"v":0.5},{"t":36.9,"v":0.45},{"t":37.3,"v":0.2},{"t":37.7,"v":0.15},{"t":38.1,"v":0.35},{"t":38.5,"v":0.5},{"t":38.9,"v":0.3},{"t":39.3,"v":0.1},{"t":39.7,"v":0.05},{"t":40.0,"v":0.15}],
"b5":[{"t":0,"v":0.8},{"t":0.5,"v":0.4},{"t":0.8,"v":0.45},{"t":1.2,"v":0.6},{"t":1.6,"v":0.65},{"t":2.0,"v":0.7},{"t":2.4,"v":0.5},{"t":2.8,"v":0.35},{"t":3.3,"v":0.5},{"t":3.8,"v":0.65},{"t":4.3,"v":0.4},{"t":4.9,"v":0.6},{"t":5.5,"v":0.8},{"t":6.0,"v":0.5},{"t":6.5,"v":0.3},{"t":6.9,"v":0.45},{"t":7.2,"v":0.6},{"t":7.8,"v":0.4},{"t":8.4,"v":0.65},{"t":9.0,"v":0.8},{"t":9.5,"v":0.6},{"t":10.0,"v":0.5},{"t":10.4,"v":0.6},{"t":10.8,"v":0.75},{"t":11.5,"v":0.4},{"t":12.0,"v":0.55},{"t":12.7,"v":0.7},{"t":13.1,"v":0.5},{"t":13.5,"v":0.35},{"t":14.0,"v":0.55},{"t":14.5,"v":0.75},{"t":14.9,"v":0.5},{"t":15.3,"v":0.25},{"t":15.9,"v":0.45},{"t":16.5,"v":0.6},{"t":17.0,"v":0.4},{"t":17.5,"v":0.2},{"t":17.9,"v":0.55},{"t":18.3,"v":0.9},{"t":18.6,"v":0.6},{"t":19.0,"v":0.4},{"t":19.6,"v":0.55},{"t":20.2,"v":0.8},{"t":20.6,"v":0.65},{"t":21.0,"v":0.5},{"t":21.5,"v":0.55},{"t":22.0,"v":0.6},{"t":22.4,"v":0.5},{"t":22.8,"v":0.45},{"t":23.2,"v":0.6},{"t":23.6,"v":0.8},{"t":24.0,"v":1.0},{"t":24.5,"v":0.75},{"t":25.0,"v":0.6},{"t":25.5,"v":0.65},{"t":26.0,"v":0.5},{"t":26.5,"v":0.6},{"t":27.0,"v":0.75},{"t":27.5,"v":0.7},{"t":28.0,"v":0.6},{"t":28.5,"v":0.5},{"t":29.0,"v":0.4},{"t":29.5,"v":0.3},{"t":30.0,"v":0.55},{"t":30.5,"v":0.45},{"t":31.0,"v":0.4},{"t":31.5,"v":0.5},{"t":32.0,"v":0.6},{"t":32.5,"v":0.4},{"t":33.0,"v":0.25},{"t":33.5,"v":0.4},{"t":34.0,"v":0.5},{"t":34.5,"v":0.4},{"t":35.0,"v":0.3},{"t":35.5,"v":0.4},{"t":36.0,"v":0.5},{"t":36.5,"v":0.4},{"t":37.0,"v":0.3},{"t":37.5,"v":0.4},{"t":38.0,"v":0.5},{"t":38.5,"v":0.45},{"t":39.0,"v":0.4},{"t":39.5,"v":0.3},{"t":39.8,"v":0.2},{"t":40.0,"v":0.05}],
"b6":[{"t":0,"v":0.3},{"t":0.3,"v":0.4},{"t":0.6,"v":0.55},{"t":0.9,"v":0.45},{"t":1.2,"v":0.6},{"t":1.5,"v":0.4},{"t":1.8,"v":0.35},{"t":2.1,"v":0.5},{"t":2.4,"v":0.7},{"t":2.7,"v":0.45},{"t":3.0,"v":0.2},{"t":3.3,"v":0.35},{"t":3.6,"v":0.55},{"t":3.9,"v":0.6},{"t":4.2,"v":0.35},{"t":4.5,"v":0.5},{"t":4.8,"v":0.4},{"t":5.1,"v":0.65},{"t":5.4,"v":0.7},{"t":5.7,"v":0.4},{"t":6.0,"v":0.3},{"t":6.3,"v":0.55},{"t":6.6,"v":0.45},{"t":6.9,"v":0.65},{"t":7.2,"v":0.55},{"t":7.5,"v":0.75},{"t":7.8,"v":0.7},{"t":8.1,"v":0.45},{"t":8.4,"v":0.4},{"t":8.7,"v":0.55},{"t":9.0,"v":0.35},{"t":9.3,"v":0.5},{"t":9.6,"v":0.45},{"t":9.9,"v":0.6},{"t":10.2,"v":0.4},{"t":10.5,"v":0.5},{"t":10.8,"v":0.45},{"t":11.1,"v":0.65},{"t":11.4,"v":0.55},{"t":11.7,"v":0.6},{"t":12.0,"v":0.4},{"t":12.3,"v":0.55},{"t":12.6,"v":0.6},{"t":12.9,"v":0.35},{"t":13.2,"v":0.5},{"t":13.5,"v":0.45},{"t":13.8,"v":0.6},{"t":14.1,"v":0.55},{"t":14.4,"v":0.45},{"t":14.7,"v":0.65},{"t":15.0,"v":0.7},{"t":15.3,"v":0.5},{"t":15.6,"v":0.4},{"t":15.9,"v":0.55},{"t":16.2,"v":0.45},{"t":16.5,"v":0.6},{"t":16.8,"v":0.55},{"t":17.1,"v":0.65},{"t":17.4,"v":0.45},{"t":17.7,"v":0.35},{"t":18.0,"v":0.5},{"t":18.3,"v":0.4},{"t":18.6,"v":0.55},{"t":18.9,"v":0.45},{"t":19.2,"v":0.5},{"t":19.5,"v":0.35},{"t":19.8,"v":0.55},{"t":20.1,"v":0.6},{"t":20.4,"v":0.45},{"t":20.7,"v":0.35},{"t":21.0,"v":0.5},{"t":21.3,"v":0.4},{"t":21.6,"v":0.45},{"t":21.9,"v":0.5},{"t":22.2,"v":0.3},{"t":22.4,"v":0.05},{"t":22.6,"v":0.4},{"t":22.9,"v":0.55},{"t":23.2,"v":0.45},{"t":23.5,"v":0.6},{"t":23.8,"v":0.55},{"t":24.1,"v":0.7},{"t":24.4,"v":0.55},{"t":24.7,"v":0.5},{"t":25.0,"v":0.6},{"t":25.3,"v":0.45},{"t":25.6,"v":0.4},{"t":25.9,"v":0.55},{"t":26.2,"v":0.5},{"t":26.5,"v":0.6},{"t":26.8,"v":0.4},{"t":27.1,"v":0.5},{"t":27.4,"v":0.45},{"t":27.7,"v":0.35},{"t":28.0,"v":0.5},{"t":28.3,"v":0.45},{"t":28.6,"v":0.55},{"t":28.9,"v":0.4},{"t":29.2,"v":0.3},{"t":29.5,"v":0.5},{"t":29.8,"v":0.45},{"t":30.1,"v":0.5},{"t":30.4,"v":0.4},{"t":30.7,"v":0.45},{"t":31.0,"v":0.5},{"t":31.3,"v":0.4},{"t":31.6,"v":0.45},{"t":31.9,"v":0.35},{"t":32.2,"v":0.45},{"t":32.5,"v":0.4},{"t":32.8,"v":0.5},{"t":33.1,"v":0.4},{"t":33.4,"v":0.45},{"t":33.7,"v":0.35},{"t":34.0,"v":0.45},{"t":34.3,"v":0.4},{"t":34.6,"v":0.5},{"t":34.9,"v":0.45},{"t":35.2,"v":0.4},{"t":35.5,"v":0.45},{"t":35.8,"v":0.35},{"t":36.1,"v":0.45},{"t":36.4,"v":0.4},{"t":36.7,"v":0.3},{"t":37.0,"v":0.35},{"t":37.3,"v":0.45},{"t":37.6,"v":0.4},{"t":37.9,"v":0.5},{"t":38.2,"v":0.45},{"t":38.5,"v":0.35},{"t":38.8,"v":0.45},{"t":39.1,"v":0.4},{"t":39.4,"v":0.35},{"t":39.7,"v":0.45},{"t":40.0,"v":0.5}],
"c1":[{"t":0,"v":0.3},{"t":0.03,"v":0.15},{"t":0.08,"v":0.2},{"t":0.13,"v":0.32},{"t":0.18,"v":0.35},{"t":0.23,"v":0.25},{"t":0.28,"v":0.2},{"t":0.33,"v":0.05},{"t":0.37,"v":0.0},{"t":0.42,"v":0.3},{"t":0.47,"v":0.4},{"t":0.52,"v":0.6},{"t":0.57,"v":0.65},{"t":0.62,"v":0.5},{"t":0.67,"v":0.55},{"t":0.72,"v":0.5},{"t":0.77,"v":0.6},{"t":0.82,"v":0.5},{"t":0.87,"v":0.45},{"t":0.92,"v":0.5},{"t":0.97,"v":0.55},{"t":1.02,"v":0.3},{"t":1.07,"v":0.2},{"t":1.12,"v":0.22},{"t":1.17,"v":0.3},{"t":1.22,"v":0.42},{"t":1.27,"v":0.38},{"t":1.32,"v":0.6},{"t":1.37,"v":0.62},{"t":1.42,"v":0.55},{"t":1.47,"v":0.75},{"t":1.5,"v":1.0},{"t":1.54,"v":0.6},{"t":1.58,"v":0.2},{"t":1.62,"v":0.0},{"t":1.67,"v":0.3},{"t":1.72,"v":0.45},{"t":1.77,"v":0.5},{"t":1.82,"v":0.42},{"t":1.87,"v":0.48},{"t":1.92,"v":0.45},{"t":1.97,"v":0.4},{"t":2.02,"v":0.45},{"t":2.07,"v":0.5},{"t":2.12,"v":0.3},{"t":2.17,"v":0.15},{"t":2.22,"v":0.0},{"t":2.27,"v":0.1},{"t":2.32,"v":0.2},{"t":2.37,"v":0.25},{"t":2.42,"v":0.3},{"t":2.47,"v":0.45},{"t":2.52,"v":0.6},{"t":2.57,"v":0.72},{"t":2.62,"v":0.68},{"t":2.67,"v":0.7},{"t":2.72,"v":0.62},{"t":2.77,"v":0.65},{"t":2.82,"v":0.58},{"t":2.87,"v":0.6},{"t":2.92,"v":0.68},{"t":2.97,"v":0.62},{"t":3.02,"v":0.52},{"t":3.07,"v":0.5},{"t":3.12,"v":0.45},{"t":3.17,"v":0.55},{"t":3.22,"v":0.48},{"t":3.27,"v":0.58},{"t":3.32,"v":0.6},{"t":3.37,"v":0.55},{"t":3.42,"v":0.62},{"t":3.47,"v":0.45},{"t":3.52,"v":0.55},{"t":3.6,"v":0.6},{"t":3.7,"v":0.35},{"t":3.75,"v":0.5},{"t":3.8,"v":0.45},{"t":3.85,"v":0.55},{"t":3.9,"v":0.4},{"t":3.95,"v":0.3},{"t":4.0,"v":0.35},{"t":4.05,"v":0.25},{"t":4.1,"v":0.3},{"t":4.15,"v":0.5},{"t":4.2,"v":0.45},{"t":4.25,"v":0.3},{"t":4.3,"v":0.2},{"t":4.35,"v":0.15},{"t":4.4,"v":0.35},{"t":4.45,"v":0.45},{"t":4.5,"v":0.4},{"t":4.55,"v":0.35},{"t":4.6,"v":0.45},{"t":4.65,"v":0.38},{"t":4.7,"v":0.5},{"t":4.75,"v":0.45},{"t":4.8,"v":0.4},{"t":4.85,"v":0.5},{"t":4.9,"v":0.42},{"t":4.95,"v":0.48},{"t":5.0,"v":0.5},{"t":5.05,"v":0.45},{"t":5.1,"v":0.35},{"t":5.15,"v":0.25},{"t":5.2,"v":0.2},{"t":5.25,"v":0.22},{"t":5.3,"v":0.18},{"t":5.35,"v":0.3},{"t":5.4,"v":0.28}],
"c2":[{"t":0,"v":0.25},{"t":0.05,"v":0.4},{"t":0.1,"v":0.45},{"t":0.15,"v":0.55},{"t":0.2,"v":0.4},{"t":0.25,"v":0.38},{"t":0.3,"v":0.35},{"t":0.35,"v":0.2},{"t":0.4,"v":0.3},{"t":0.45,"v":0.45},{"t":0.5,"v":0.6},{"t":0.55,"v":0.5},{"t":0.6,"v":0.55},{"t":0.65,"v":0.6},{"t":0.7,"v":0.7},{"t":0.75,"v":0.55},{"t":0.8,"v":0.5},{"t":0.85,"v":0.45},{"t":0.9,"v":0.4},{"t":0.95,"v":0.42},{"t":1.0,"v":0.4},{"t":1.05,"v":0.45},{"t":1.1,"v":0.5},{"t":1.15,"v":0.55},{"t":1.2,"v":0.6},{"t":1.25,"v":0.5},{"t":1.3,"v":0.55},{"t":1.35,"v":0.65},{"t":1.4,"v":0.75},{"t":1.45,"v":0.85},{"t":1.5,"v":1.0},{"t":1.55,"v":0.8},{"t":1.6,"v":0.5},{"t":1.65,"v":0.35},{"t":1.7,"v":0.15},{"t":1.75,"v":0.3},{"t":1.8,"v":0.4},{"t":1.85,"v":0.45},{"t":1.9,"v":0.35},{"t":1.95,"v":0.4},{"t":2.0,"v":0.35},{"t":2.05,"v":0.45},{"t":2.1,"v":0.5},{"t":2.15,"v":0.3},{"t":2.2,"v":0.15},{"t":2.25,"v":0.0},{"t":2.3,"v":0.15},{"t":2.35,"v":0.25},{"t":2.4,"v":0.3},{"t":2.45,"v":0.28},{"t":2.5,"v":0.6},{"t":2.55,"v":0.9},{"t":2.6,"v":0.85},{"t":2.65,"v":0.8},{"t":2.7,"v":0.75},{"t":2.75,"v":0.5},{"t":2.8,"v":0.4},{"t":2.85,"v":0.6},{"t":2.9,"v":0.7},{"t":2.95,"v":0.65},{"t":3.0,"v":0.6},{"t":3.05,"v":0.55},{"t":3.1,"v":0.5},{"t":3.15,"v":0.45},{"t":3.2,"v":0.45},{"t":3.25,"v":0.5},{"t":3.3,"v":0.4},{"t":3.35,"v":0.45},{"t":3.4,"v":0.4},{"t":3.45,"v":0.55},{"t":3.5,"v":0.65},{"t":3.55,"v":0.6},{"t":3.6,"v":0.55},{"t":3.65,"v":0.6},{"t":3.7,"v":0.55},{"t":3.75,"v":0.5},{"t":3.8,"v":0.45},{"t":3.85,"v":0.5},{"t":3.9,"v":0.4},{"t":3.95,"v":0.35},{"t":4.0,"v":0.3},{"t":4.05,"v":0.25},{"t":4.1,"v":0.3},{"t":4.15,"v":0.45},{"t":4.2,"v":0.4},{"t":4.25,"v":0.45},{"t":4.3,"v":0.5},{"t":4.35,"v":0.45},{"t":4.4,"v":0.3},{"t":4.45,"v":0.2},{"t":4.5,"v":0.15},{"t":4.55,"v":0.3},{"t":4.6,"v":0.4},{"t":4.65,"v":0.35},{"t":4.7,"v":0.45},{"t":4.75,"v":0.4},{"t":4.8,"v":0.45},{"t":4.85,"v":0.35},{"t":4.9,"v":0.5},{"t":4.95,"v":0.45},{"t":5.0,"v":0.5},{"t":5.05,"v":0.4},{"t":5.1,"v":0.35},{"t":5.15,"v":0.3},{"t":5.2,"v":0.3},{"t":5.25,"v":0.2},{"t":5.3,"v":0.25},{"t":5.35,"v":0.35},{"t":5.4,"v":0.4}],
"c3":[{"t":0,"v":0.3},{"t":0.05,"v":0.2},{"t":0.1,"v":0.28},{"t":0.15,"v":0.38},{"t":0.2,"v":0.4},{"t":0.25,"v":0.32},{"t":0.3,"v":0.35},{"t":0.35,"v":0.28},{"t":0.4,"v":0.25},{"t":0.45,"v":0.35},{"t":0.5,"v":0.45},{"t":0.55,"v":0.5},{"t":0.6,"v":0.3},{"t":0.65,"v":0.35},{"t":0.7,"v":0.3},{"t":0.75,"v":0.32},{"t":0.8,"v":0.3},{"t":0.85,"v":0.25},{"t":0.9,"v":0.28},{"t":0.95,"v":0.35},{"t":1.0,"v":0.35},{"t":1.05,"v":0.3},{"t":1.1,"v":0.32},{"t":1.15,"v":0.4},{"t":1.2,"v":0.45},{"t":1.25,"v":0.5},{"t":1.3,"v":0.25},{"t":1.35,"v":0.15},{"t":1.4,"v":0.25},{"t":1.45,"v":0.35},{"t":1.5,"v":0.6},{"t":1.55,"v":0.85},{"t":1.6,"v":1.0},{"t":1.65,"v":0.85},{"t":1.7,"v":0.65},{"t":1.75,"v":0.4},{"t":1.8,"v":0.2},{"t":1.85,"v":0.35},{"t":1.9,"v":0.4},{"t":1.95,"v":0.38},{"t":2.0,"v":0.35},{"t":2.05,"v":0.25},{"t":2.1,"v":0.1},{"t":2.15,"v":0.2},{"t":2.2,"v":0.3},{"t":2.25,"v":0.3},{"t":2.3,"v":0.35},{"t":2.35,"v":0.38},{"t":2.4,"v":0.3},{"t":2.45,"v":0.2},{"t":2.5,"v":0.15},{"t":2.55,"v":0.4},{"t":2.6,"v":0.6},{"t":2.65,"v":0.45},{"t":2.7,"v":0.3},{"t":2.75,"v":0.45},{"t":2.8,"v":0.55},{"t":2.85,"v":0.4},{"t":2.9,"v":0.2},{"t":2.95,"v":0.35},{"t":3.0,"v":0.5},{"t":3.05,"v":0.45},{"t":3.1,"v":0.4},{"t":3.15,"v":0.35},{"t":3.2,"v":0.3},{"t":3.25,"v":0.2},{"t":3.3,"v":0.05},{"t":3.35,"v":0.0},{"t":3.4,"v":0.15},{"t":3.45,"v":0.3},{"t":3.5,"v":0.6},{"t":3.55,"v":0.75},{"t":3.6,"v":0.55},{"t":3.65,"v":0.6},{"t":3.7,"v":0.5},{"t":3.75,"v":0.45},{"t":3.8,"v":0.4},{"t":3.85,"v":0.3},{"t":3.9,"v":0.2},{"t":3.95,"v":0.35},{"t":4.0,"v":0.5},{"t":4.05,"v":0.4},{"t":4.1,"v":0.3},{"t":4.15,"v":0.35},{"t":4.2,"v":0.3},{"t":4.25,"v":0.25},{"t":4.3,"v":0.3},{"t":4.35,"v":0.4},{"t":4.4,"v":0.35},{"t":4.45,"v":0.4},{"t":4.5,"v":0.35},{"t":4.55,"v":0.2},{"t":4.6,"v":0.05},{"t":4.65,"v":0.0},{"t":4.7,"v":0.15},{"t":4.75,"v":0.3},{"t":4.8,"v":0.35},{"t":4.85,"v":0.4},{"t":4.9,"v":0.45},{"t":4.95,"v":0.4},{"t":5.0,"v":0.45},{"t":5.05,"v":0.35},{"t":5.1,"v":0.3},{"t":5.15,"v":0.35},{"t":5.2,"v":0.3},{"t":5.25,"v":0.35},{"t":5.3,"v":0.4},{"t":5.35,"v":0.35},{"t":5.4,"v":0.4}],
"c4":[{"t":0,"v":0.9},{"t":0.05,"v":0.93},{"t":0.1,"v":0.95},{"t":0.15,"v":1.0},{"t":0.2,"v":0.95},{"t":0.25,"v":0.97},{"t":0.3,"v":0.94},{"t":0.4,"v":0.95},{"t":0.5,"v":0.92},{"t":0.55,"v":0.9},{"t":0.6,"v":0.93},{"t":0.65,"v":0.88},{"t":0.7,"v":0.85},{"t":0.75,"v":0.9},{"t":0.8,"v":0.82},{"t":0.85,"v":0.75},{"t":0.9,"v":0.72},{"t":0.95,"v":0.7},{"t":1.0,"v":0.6},{"t":1.05,"v":0.65},{"t":1.1,"v":0.62},{"t":1.15,"v":0.6},{"t":1.2,"v":0.65},{"t":1.25,"v":0.7},{"t":1.3,"v":0.55},{"t":1.35,"v":0.6},{"t":1.38,"v":0.35},{"t":1.42,"v":0.4},{"t":1.45,"v":0.3},{"t":1.48,"v":0.0},{"t":1.52,"v":0.3},{"t":1.56,"v":0.32},{"t":1.6,"v":0.25},{"t":1.63,"v":0.6},{"t":1.68,"v":0.65},{"t":1.75,"v":0.7},{"t":1.8,"v":0.72},{"t":1.9,"v":0.68},{"t":2.0,"v":0.65},{"t":2.1,"v":0.7},{"t":2.2,"v":0.75},{"t":2.25,"v":0.6},{"t":2.3,"v":0.55},{"t":2.38,"v":0.65},{"t":2.45,"v":0.72},{"t":2.55,"v":0.7},{"t":2.65,"v":0.72},{"t":2.75,"v":0.65},{"t":2.85,"v":0.7},{"t":2.95,"v":0.75},{"t":3.05,"v":0.78},{"t":3.15,"v":0.76},{"t":3.25,"v":0.8},{"t":3.35,"v":0.82},{"t":3.45,"v":0.78},{"t":3.55,"v":0.75},{"t":3.65,"v":0.78},{"t":3.75,"v":0.76},{"t":3.85,"v":0.8},{"t":3.95,"v":0.85},{"t":4.0,"v":0.88},{"t":4.05,"v":0.8},{"t":4.15,"v":0.72},{"t":4.25,"v":0.7},{"t":4.35,"v":0.75},{"t":4.45,"v":0.72},{"t":4.55,"v":0.75},{"t":4.65,"v":0.8},{"t":4.75,"v":0.82},{"t":4.85,"v":0.85},{"t":4.95,"v":0.88},{"t":5.05,"v":0.9},{"t":5.15,"v":0.88},{"t":5.25,"v":0.9},{"t":5.35,"v":0.88},{"t":5.4,"v":0.9}],
"c5":[{"t":0,"v":0.65},{"t":0.1,"v":0.8},{"t":0.2,"v":0.85},{"t":0.28,"v":0.8},{"t":0.35,"v":0.75},{"t":0.45,"v":0.7},{"t":0.55,"v":0.8},{"t":0.65,"v":0.65},{"t":0.75,"v":0.8},{"t":0.85,"v":0.6},{"t":0.95,"v":0.6},{"t":1.0,"v":0.45},{"t":1.1,"v":0.5},{"t":1.2,"v":0.65},{"t":1.3,"v":0.6},{"t":1.4,"v":0.3},{"t":1.45,"v":0.0},{"t":1.5,"v":0.15},{"t":1.55,"v":0.2},{"t":1.6,"v":0.1},{"t":1.7,"v":0.6},{"t":1.85,"v":0.55},{"t":2.0,"v":0.7},{"t":2.1,"v":0.8},{"t":2.2,"v":0.6},{"t":2.3,"v":0.5},{"t":2.45,"v":0.7},{"t":2.6,"v":0.65},{"t":2.7,"v":0.55},{"t":2.9,"v":0.65},{"t":3.1,"v":0.7},{"t":3.3,"v":0.85},{"t":3.5,"v":0.9},{"t":3.7,"v":0.75},{"t":3.9,"v":0.65},{"t":4.0,"v":0.95},{"t":4.15,"v":0.7},{"t":4.3,"v":0.6},{"t":4.5,"v":0.75},{"t":4.75,"v":0.6},{"t":5.0,"v":0.9},{"t":5.1,"v":1.0},{"t":5.2,"v":0.8},{"t":5.3,"v":0.85},{"t":5.4,"v":0.8}],
"c6":[{"t":0,"v":0.6},{"t":0.1,"v":0.5},{"t":0.2,"v":0.75},{"t":0.3,"v":0.55},{"t":0.45,"v":0.75},{"t":0.5,"v":0.6},{"t":0.6,"v":0.1},{"t":0.7,"v":0.5},{"t":0.85,"v":0.3},{"t":0.95,"v":0.2},{"t":1.0,"v":0.55},{"t":1.05,"v":0.8},{"t":1.15,"v":0.6},{"t":1.25,"v":0.75},{"t":1.35,"v":0.35},{"t":1.5,"v":0.5},{"t":1.6,"v":0.8},{"t":1.7,"v":0.5},{"t":1.8,"v":0.7},{"t":1.9,"v":0.4},{"t":2.0,"v":0.55},{"t":2.2,"v":0.45},{"t":2.3,"v":0.3},{"t":2.4,"v":0.55},{"t":2.5,"v":0.4},{"t":2.6,"v":0.7},{"t":2.75,"v":0.5},{"t":2.9,"v":0.8},{"t":3.0,"v":0.7},{"t":3.1,"v":0.6},{"t":3.2,"v":0.45},{"t":3.3,"v":0.35},{"t":3.45,"v":0.2},{"t":3.55,"v":0.1},{"t":3.65,"v":0.35},{"t":3.75,"v":0.25},{"t":3.85,"v":0.5},{"t":3.95,"v":0.6},{"t":4.05,"v":0.7},{"t":4.15,"v":0.6},{"t":4.25,"v":0.5},{"t":4.4,"v":0.7},{"t":4.5,"v":0.55},{"t":4.7,"v":0.5},{"t":4.9,"v":0.7},{"t":5.0,"v":0.55},{"t":5.1,"v":0.6},{"t":5.25,"v":0.95},{"t":5.35,"v":0.7},{"t":5.4,"v":0.6}],
"d1":[{"t":0,"v":0.2},{"t":0.1,"v":0.19},{"t":0.2,"v":0.17},{"t":0.3,"v":0.18},{"t":0.4,"v":0.17},{"t":0.5,"v":0.17},{"t":0.6,"v":0.2},{"t":0.7,"v":0.35},{"t":0.8,"v":0.6},{"t":0.85,"v":0.68},{"t":0.95,"v":0.6},{"t":1.05,"v":0.55},{"t":1.1,"v":0.6},{"t":1.2,"v":0.9},{"t":1.25,"v":0.75},{"t":1.35,"v":0.3},{"t":1.4,"v":0.12},{"t":1.5,"v":0.35},{"t":1.55,"v":0.65},{"t":1.6,"v":0.7},{"t":1.7,"v":0.3},{"t":1.8,"v":0.1},{"t":1.9,"v":0.06},{"t":2.05,"v":0.07},{"t":2.2,"v":0.08},{"t":2.35,"v":0.06},{"t":2.5,"v":0.07},{"t":2.65,"v":0.06},{"t":2.8,"v":0.08},{"t":3.0,"v":0.07},{"t":3.1,"v":0.1},{"t":3.2,"v":0.15},{"t":3.3,"v":0.35},{"t":3.35,"v":0.6},{"t":3.4,"v":0.75},{"t":3.5,"v":0.85},{"t":3.6,"v":0.8},{"t":3.7,"v":0.85},{"t":3.8,"v":0.8},{"t":3.9,"v":0.75},{"t":3.95,"v":0.5},{"t":4.0,"v":0.05},{"t":4.1,"v":0.5},{"t":4.2,"v":0.3},{"t":4.3,"v":0.05},{"t":4.4,"v":0.06},{"t":4.5,"v":0.05},{"t":4.6,"v":0.07},{"t":4.7,"v":0.08},{"t":4.8,"v":0.06},{"t":4.9,"v":0.07},{"t":5.0,"v":0.07}],
"d2":[{"t":0,"v":0.1},{"t":0.05,"v":0.25},{"t":0.15,"v":0.1},{"t":0.3,"v":0.15},{"t":0.4,"v":0.3},{"t":0.5,"v":0.2},{"t":0.6,"v":0.2},{"t":0.75,"v":0.3},{"t":0.8,"v":0.5},{"t":0.9,"v":0.35},{"t":1.0,"v":0.45},{"t":1.1,"v":0.35},{"t":1.2,"v":0.4},{"t":1.3,"v":0.3},{"t":1.4,"v":0.25},{"t":1.5,"v":0.3},{"t":1.6,"v":0.4},{"t":1.7,"v":0.15},{"t":1.8,"v":0.08},{"t":2.0,"v":0.05},{"t":2.15,"v":0.06},{"t":2.3,"v":0.04},{"t":2.45,"v":0.06},{"t":2.6,"v":0.05},{"t":2.75,"v":0.04},{"t":2.9,"v":0.03},{"t":3.0,"v":0.02},{"t":3.15,"v":0.1},{"t":3.3,"v":0.25},{"t":3.4,"v":0.3},{"t":3.45,"v":0.25},{"t":3.5,"v":0.9},{"t":3.55,"v":0.4},{"t":3.65,"v":0.35},{"t":3.75,"v":0.25},{"t":3.85,"v":0.35},{"t":3.95,"v":0.4},{"t":4.0,"v":0.0},{"t":4.05,"v":0.2},{"t":4.15,"v":0.35},{"t":4.25,"v":0.15},{"t":4.4,"v":0.05},{"t":4.55,"v":0.06},{"t":4.7,"v":0.04},{"t":4.85,"v":0.06},{"t":5.0,"v":0.05}],
"d3":[{"t":0,"v":0.1},{"t":0.05,"v":0.45},{"t":0.1,"v":0.2},{"t":0.2,"v":0.3},{"t":0.35,"v":0.15},{"t":0.38,"v":1.0},{"t":0.42,"v":0.2},{"t":0.5,"v":0.6},{"t":0.55,"v":0.2},{"t":0.65,"v":0.3},{"t":0.75,"v":0.25},{"t":0.85,"v":0.45},{"t":1.0,"v":0.35},{"t":1.1,"v":0.4},{"t":1.2,"v":0.3},{"t":1.3,"v":0.25},{"t":1.38,"v":0.9},{"t":1.45,"v":0.4},{"t":1.55,"v":0.15},{"t":1.65,"v":0.25},{"t":1.8,"v":0.2},{"t":1.9,"v":0.05},{"t":2.0,"v":0.25},{"t":2.2,"v":0.2},{"t":2.3,"v":0.1},{"t":2.4,"v":0.35},{"t":2.5,"v":0.2},{"t":2.6,"v":0.3},{"t":2.7,"v":0.15},{"t":2.8,"v":0.2},{"t":2.85,"v":0.4},{"t":2.95,"v":0.05},{"t":3.1,"v":0.1},{"t":3.15,"v":0.7},{"t":3.25,"v":0.35},{"t":3.35,"v":0.1},{"t":3.45,"v":0.3},{"t":3.6,"v":0.2},{"t":3.7,"v":0.3},{"t":3.8,"v":0.15},{"t":3.95,"v":0.45},{"t":4.05,"v":0.0},{"t":4.1,"v":0.3},{"t":4.25,"v":0.1},{"t":4.4,"v":0.3},{"t":4.5,"v":0.1},{"t":4.6,"v":0.3},{"t":4.8,"v":0.2},{"t":5.0,"v":0.1}],
"d4":[{"t":0,"v":0.15},{"t":0.1,"v":0.3},{"t":0.2,"v":0.45},{"t":0.3,"v":0.6},{"t":0.35,"v":0.75},{"t":0.45,"v":0.5},{"t":0.55,"v":0.4},{"t":0.6,"v":0.1},{"t":0.7,"v":0.2},{"t":0.85,"v":0.18},{"t":0.95,"v":0.15},{"t":1.0,"v":0.9},{"t":1.1,"v":0.88},{"t":1.2,"v":0.85},{"t":1.3,"v":0.2},{"t":1.4,"v":0.12},{"t":1.45,"v":0.85},{"t":1.5,"v":0.9},{"t":1.6,"v":0.75},{"t":1.7,"v":0.7},{"t":1.9,"v":0.8},{"t":2.1,"v":0.82},{"t":2.3,"v":0.85},{"t":2.4,"v":0.92},{"t":2.6,"v":0.85},{"t":2.8,"v":0.88},{"t":3.0,"v":0.9},{"t":3.2,"v":0.95},{"t":3.25,"v":0.3},{"t":3.4,"v":0.2},{"t":3.5,"v":0.25},{"t":3.6,"v":0.0},{"t":3.7,"v":0.2},{"t":3.8,"v":0.45},{"t":3.85,"v":0.6},{"t":3.95,"v":0.05},{"t":4.0,"v":0.45}],
"d5":[{"t":0,"v":0.3},{"t":0.1,"v":0.55},{"t":0.15,"v":0.3},{"t":0.25,"v":0.5},{"t":0.3,"v":0.35},{"t":0.4,"v":0.6},{"t":0.5,"v":0.35},{"t":0.6,"v":0.25},{"t":0.65,"v":0.1},{"t":0.75,"v":0.2},{"t":0.85,"v":0.15},{"t":0.95,"v":0.3},{"t":1.0,"v":0.5},{"t":1.1,"v":0.3},{"t":1.2,"v":0.1},{"t":1.3,"v":0.3},{"t":1.4,"v":0.2},{"t":1.5,"v":0.6},{"t":1.6,"v":0.7},{"t":1.8,"v":0.65},{"t":1.9,"v":0.8},{"t":2.0,"v":0.7},{"t":2.2,"v":0.75},{"t":2.3,"v":1.0},{"t":2.4,"v":0.8},{"t":2.5,"v":0.85},{"t":2.7,"v":0.75},{"t":2.9,"v":0.85},{"t":3.0,"v":0.75},{"t":3.05,"v":0.9},{"t":3.1,"v":0.3},{"t":3.2,"v":0.55},{"t":3.25,"v":0.7},{"t":3.4,"v":0.2},{"t":3.5,"v":0.3},{"t":3.6,"v":0.05},{"t":3.7,"v":0.3},{"t":3.75,"v":0.5},{"t":3.85,"v":0.2},{"t":3.9,"v":0.4},{"t":4.0,"v":0.05}],
"d6":[{"t":0,"v":0.3},{"t":0.1,"v":0.6},{"t":0.2,"v":0.4},{"t":0.3,"v":0.7},{"t":0.4,"v":0.4},{"t":0.45,"v":0.75},{"t":0.55,"v":0.35},{"t":0.65,"v":0.2},{"t":0.7,"v":0.0},{"t":0.8,"v":0.5},{"t":0.9,"v":0.0},{"t":1.0,"v":0.5},{"t":1.1,"v":0.3},{"t":1.2,"v":0.45},{"t":1.3,"v":0.3},{"t":1.4,"v":0.55},{"t":1.5,"v":0.4},{"t":1.6,"v":0.75},{"t":1.7,"v":0.6},{"t":1.75,"v":0.85},{"t":1.85,"v":0.5},{"t":1.95,"v":0.3},{"t":2.05,"v":0.5},{"t":2.15,"v":0.15},{"t":2.25,"v":0.5},{"t":2.35,"v":0.45},{"t":2.45,"v":0.7},{"t":2.5,"v":0.95},{"t":2.6,"v":0.6},{"t":2.7,"v":0.4},{"t":2.8,"v":0.65},{"t":2.9,"v":0.5},{"t":3.0,"v":0.55},{"t":3.1,"v":0.4},{"t":3.2,"v":0.5},{"t":3.3,"v":0.6},{"t":3.4,"v":0.3},{"t":3.5,"v":0.15},{"t":3.6,"v":0.55},{"t":3.7,"v":0.3},{"t":3.85,"v":0.4},{"t":4.0,"v":0.2},{"t":4.1,"v":0.35},{"t":4.2,"v":0.2},{"t":4.35,"v":0.35},{"t":4.5,"v":0.25},{"t":4.6,"v":0.4},{"t":4.7,"v":0.2},{"t":4.85,"v":0.35},{"t":4.95,"v":0.5},{"t":5.0,"v":0.35}]
},
"concat":[
{"width":275,"height":50,"data":{"name":"a1"},"mark":{"type":"line","strokeWidth":1,"clip":true},"encoding":{"x":{"field":"t","type":"quantitative","scale":{"domain":[0,14.25],"nice":false,"zero":false},"axis":{"values":[0,2,4,6,8,10,12,14],"title":null}},"y":{"field":"v","type":"quantitative","scale":{"domain":[0,1],"nice":false},"axis":{"values":[0,0.5,1],"title":null}},"color":{"datum":"Without δ","type":"nominal","scale":{"domain":["Without δ"],"range":["#0072BD"]},"legend":{"title":null,"symbolStrokeWidth":1.5}}}},
{"width":268,"height":50,"data":{"name":"b1"},"mark":{"type":"line","strokeWidth":2,"interpolate":"monotone","clip":true},"encoding":{"x":{"field":"t","type":"quantitative","scale":{"domain":[0,40],"nice":false,"zero":false},"axis":{"values":[0,5,10,15,20,25,30,35,40],"title":null}},"y":{"field":"v","type":"quantitative","scale":{"domain":[0,1],"nice":false},"axis":{"values":[0,0.5,1],"title":null}},"color":{"datum":"Without δ","type":"nominal","scale":{"domain":["Without δ"],"range":["#0072BD"]},"legend":{"title":null}}}},
{"width":265,"height":50,"data":{"name":"c1"},"mark":{"type":"line","strokeWidth":1.8,"clip":true},"encoding":{"x":{"field":"t","type":"quantitative","scale":{"domain":[0,5.4],"nice":false,"zero":false},"axis":{"values":[0,1,2,3,4,5],"title":null}},"y":{"field":"v","type":"quantitative","scale":{"domain":[0,1],"nice":false},"axis":{"values":[0,0.5,1],"title":null}},"color":{"datum":"Without δ","type":"nominal","scale":{"domain":["Without δ"],"range":["#0072BD"]},"legend":{"title":null}}}},
{"width":271,"height":50,"data":{"name":"d1"},"mark":{"type":"line","strokeWidth":1.8,"interpolate":"monotone","clip":true},"encoding":{"x":{"field":"t","type":"quantitative","scale":{"domain":[0,5],"nice":false,"zero":false},"axis":{"values":[0,1,2,3,4,5],"title":null}},"y":{"field":"v","type":"quantitative","scale":{"domain":[0,1],"nice":false},"axis":{"values":[0,0.5,1],"title":null}},"color":{"datum":"Without δ","type":"nominal","scale":{"domain":["Without δ"],"range":["#0072BD"]},"legend":{"title":null}}}},

{"width":275,"height":50,"data":{"name":"a2"},"mark":{"type":"line","strokeWidth":1,"strokeDash":[1.5,1],"clip":true},"encoding":{"x":{"field":"t","type":"quantitative","scale":{"domain":[0,14.25],"nice":false,"zero":false},"axis":{"values":[0,2,4,6,8,10,12,14],"title":null}},"y":{"field":"v","type":"quantitative","scale":{"domain":[0,1],"nice":false},"axis":{"values":[0,0.5,1],"title":"Amplitude"}},"color":{"datum":"With δ₁","type":"nominal","scale":{"domain":["With δ₁"],"range":["#A2142F"]},"legend":{"title":null,"symbolDash":[1.5,1],"symbolStrokeWidth":1.5}}}},
{"width":268,"height":50,"data":{"name":"b2"},"mark":{"type":"line","strokeWidth":2.2,"strokeDash":[2,2],"clip":true},"encoding":{"x":{"field":"t","type":"quantitative","scale":{"domain":[0,40],"nice":false,"zero":false},"axis":{"values":[0,5,10,15,20,25,30,35,40],"title":null}},"y":{"field":"v","type":"quantitative","scale":{"domain":[0,1],"nice":false},"axis":{"values":[0,0.5,1],"title":"Amplitude"}},"color":{"datum":"With δ₁","type":"nominal","scale":{"domain":["With δ₁"],"range":["#A2142F"]},"legend":{"title":null,"symbolDash":[2,2]}}}},
{"width":265,"height":50,"data":{"name":"c2"},"mark":{"type":"line","strokeWidth":2.2,"strokeDash":[2,2],"clip":true},"encoding":{"x":{"field":"t","type":"quantitative","scale":{"domain":[0,5.4],"nice":false,"zero":false},"axis":{"values":[0,1,2,3,4,5],"title":null}},"y":{"field":"v","type":"quantitative","scale":{"domain":[0,1],"nice":false},"axis":{"values":[0,0.5,1],"title":"Amplitude"}},"color":{"datum":"With δ₁","type":"nominal","scale":{"domain":["With δ₁"],"range":["#A2142F"]},"legend":{"title":null,"symbolDash":[2,2]}}}},
{"width":271,"height":50,"data":{"name":"d2"},"mark":{"type":"line","strokeWidth":2.2,"strokeDash":[2,2],"clip":true},"encoding":{"x":{"field":"t","type":"quantitative","scale":{"domain":[0,5],"nice":false,"zero":false},"axis":{"values":[0,1,2,3,4,5],"title":null}},"y":{"field":"v","type":"quantitative","scale":{"domain":[0,1],"nice":false},"axis":{"values":[0,0.5,1],"title":"Amplitude"}},"color":{"datum":"With δ₁","type":"nominal","scale":{"domain":["With δ₁"],"range":["#A2142F"]},"legend":{"title":null,"symbolDash":[2,2]}}}},

{"width":275,"height":50,"data":{"name":"a3"},"mark":{"type":"line","strokeWidth":1,"strokeDash":[4,2,1,2],"clip":true},"encoding":{"x":{"field":"t","type":"quantitative","scale":{"domain":[0,14.25],"nice":false,"zero":false},"axis":{"values":[0,2,4,6,8,10,12,14],"title":"Time (s)"}},"y":{"field":"v","type":"quantitative","scale":{"domain":[0,1],"nice":false},"axis":{"values":[0,0.5,1],"title":null}},"color":{"datum":"With δ₂","type":"nominal","scale":{"domain":["With δ₂"],"range":["#77AC30"]},"legend":{"title":null,"symbolDash":[4,2,1,2],"symbolStrokeWidth":1.5}}}},
{"width":268,"height":50,"data":{"name":"b3"},"mark":{"type":"line","strokeWidth":2,"strokeDash":[6,3],"clip":true},"encoding":{"x":{"field":"t","type":"quantitative","scale":{"domain":[0,40],"nice":false,"zero":false},"axis":{"values":[0,5,10,15,20,25,30,35,40],"title":"Time (s)"}},"y":{"field":"v","type":"quantitative","scale":{"domain":[0,1],"nice":false},"axis":{"values":[0,0.5,1],"title":null}},"color":{"datum":"With δ₂","type":"nominal","scale":{"domain":["With δ₂"],"range":["#77AC30"]},"legend":{"title":null,"symbolDash":[6,3]}}}},
{"width":265,"height":50,"data":{"name":"c3"},"mark":{"type":"line","strokeWidth":2,"strokeDash":[6,3],"clip":true},"encoding":{"x":{"field":"t","type":"quantitative","scale":{"domain":[0,5.4],"nice":false,"zero":false},"axis":{"values":[0,1,2,3,4,5],"title":"Time (s)"}},"y":{"field":"v","type":"quantitative","scale":{"domain":[0,1],"nice":false},"axis":{"values":[0,0.5,1],"title":null}},"color":{"datum":"With δ₂","type":"nominal","scale":{"domain":["With δ₂"],"range":["#77AC30"]},"legend":{"title":null,"symbolDash":[6,3]}}}},
{"width":271,"height":50,"data":{"name":"d3"},"mark":{"type":"line","strokeWidth":2,"strokeDash":[6,3],"clip":true},"encoding":{"x":{"field":"t","type":"quantitative","scale":{"domain":[0,5],"nice":false,"zero":false},"axis":{"values":[0,1,2,3,4,5],"title":"Time (s)"}},"y":{"field":"v","type":"quantitative","scale":{"domain":[0,1],"nice":false},"axis":{"values":[0,0.5,1],"title":null}},"color":{"datum":"With δ₂","type":"nominal","scale":{"domain":["With δ₂"],"range":["#77AC30"]},"legend":{"title":null,"symbolDash":[6,3]}}}},

{"width":10,"height":1,"data":{"values":[]},"mark":"point","view":{"stroke":null}},
{"width":10,"height":1,"data":{"values":[]},"mark":"point","view":{"stroke":null}},
{"width":10,"height":1,"data":{"values":[]},"mark":"point","view":{"stroke":null}},
{"width":10,"height":1,"data":{"values":[]},"mark":"point","view":{"stroke":null}},

{"width":275,"height":50,"data":{"name":"a4"},"mark":{"type":"line","strokeWidth":1,"clip":true},"encoding":{"x":{"field":"t","type":"quantitative","scale":{"domain":[0,14.25],"nice":false,"zero":false},"axis":{"values":[0,2,4,6,8,10,12,14],"title":null}},"y":{"field":"v","type":"quantitative","scale":{"domain":[0,1],"nice":false},"axis":{"values":[0,0.5,1],"title":null}},"color":{"datum":"Without δ","type":"nominal","scale":{"domain":["Without δ"],"range":["#0072BD"]},"legend":{"title":null,"symbolStrokeWidth":1.5}}}},
{"width":268,"height":50,"data":{"name":"b4"},"mark":{"type":"line","strokeWidth":2,"interpolate":"monotone","clip":true},"encoding":{"x":{"field":"t","type":"quantitative","scale":{"domain":[0,40],"nice":false,"zero":false},"axis":{"values":[0,10,20,30,40],"title":null}},"y":{"field":"v","type":"quantitative","scale":{"domain":[0,1],"nice":false},"axis":{"values":[0,0.5,1],"title":null}},"color":{"datum":"Without δ","type":"nominal","scale":{"domain":["Without δ"],"range":["#0072BD"]},"legend":{"title":null}}}},
{"width":265,"height":50,"data":{"name":"c4"},"mark":{"type":"line","strokeWidth":1.8,"clip":true},"encoding":{"x":{"field":"t","type":"quantitative","scale":{"domain":[0,5.4],"nice":false,"zero":false},"axis":{"values":[0,1,2,3,4,5],"title":null}},"y":{"field":"v","type":"quantitative","scale":{"domain":[0,1],"nice":false},"axis":{"values":[0,0.5,1],"title":null}},"color":{"datum":"Without δ","type":"nominal","scale":{"domain":["Without δ"],"range":["#0072BD"]},"legend":{"title":null,"orient":"bottom-right"}}}},
{"width":271,"height":50,"data":{"name":"d4"},"mark":{"type":"line","strokeWidth":1.8,"clip":true},"encoding":{"x":{"field":"t","type":"quantitative","scale":{"domain":[0,5],"nice":false,"zero":false},"axis":{"values":[0,1,2,3,4,5],"title":null}},"y":{"field":"v","type":"quantitative","scale":{"domain":[0,1],"nice":false},"axis":{"values":[0,0.5,1],"title":null}},"color":{"datum":"Without δ","type":"nominal","scale":{"domain":["Without δ"],"range":["#0072BD"]},"legend":{"title":null}}}},

{"width":275,"height":50,"data":{"name":"a5"},"mark":{"type":"line","strokeWidth":1,"strokeDash":[1.5,1],"clip":true},"encoding":{"x":{"field":"t","type":"quantitative","scale":{"domain":[0,14.25],"nice":false,"zero":false},"axis":{"values":[0,2,4,6,8,10,12,14],"title":null}},"y":{"field":"v","type":"quantitative","scale":{"domain":[0,1],"nice":false},"axis":{"values":[0,0.5,1],"title":"Phase"}},"color":{"datum":"With δ₁","type":"nominal","scale":{"domain":["With δ₁"],"range":["#A2142F"]},"legend":{"title":null,"symbolDash":[1.5,1],"symbolStrokeWidth":1.5}}}},
{"width":268,"height":50,"data":{"name":"b5"},"mark":{"type":"line","strokeWidth":2.2,"strokeDash":[2,2],"clip":true},"encoding":{"x":{"field":"t","type":"quantitative","scale":{"domain":[0,40],"nice":false,"zero":false},"axis":{"values":[0,5,10,15,20,25,30,35,40],"title":null}},"y":{"field":"v","type":"quantitative","scale":{"domain":[0,1],"nice":false},"axis":{"values":[0,0.5,1],"title":"Phase"}},"color":{"datum":"With δ₁","type":"nominal","scale":{"domain":["With δ₁"],"range":["#A2142F"]},"legend":{"title":null,"symbolDash":[2,2]}}}},
{"width":265,"height":50,"data":{"name":"c5"},"mark":{"type":"line","strokeWidth":2.2,"strokeDash":[2,2],"clip":true},"encoding":{"x":{"field":"t","type":"quantitative","scale":{"domain":[0,5.4],"nice":false,"zero":false},"axis":{"values":[0,1,2,3,4,5],"title":null,"labelExpr":"datum.value == 0 ? '' : datum.label"}},"y":{"field":"v","type":"quantitative","scale":{"domain":[0,1],"nice":false},"axis":{"values":[0,0.5,1],"title":"Phase"}},"color":{"datum":"With δ₁","type":"nominal","scale":{"domain":["With δ₁"],"range":["#A2142F"]},"legend":{"title":null,"symbolDash":[2,2],"orient":"bottom-right"}}}},
{"width":271,"height":50,"data":{"name":"d5"},"mark":{"type":"line","strokeWidth":2.2,"strokeDash":[2,2],"clip":true},"encoding":{"x":{"field":"t","type":"quantitative","scale":{"domain":[0,5],"nice":false,"zero":false},"axis":{"values":[0,1,2,3,4,5],"title":null}},"y":{"field":"v","type":"quantitative","scale":{"domain":[0,1],"nice":false},"axis":{"values":[0,0.5,1],"title":"Phase"}},"color":{"datum":"With δ₁","type":"nominal","scale":{"domain":["With δ₁"],"range":["#A2142F"]},"legend":{"title":null,"symbolDash":[2,2]}}}},

{"width":275,"height":50,"data":{"name":"a6"},"title":{"text":"(a)  Gesture recognition","orient":"bottom","frame":"group","anchor":"middle","dx":-18,"offset":33},"mark":{"type":"line","strokeWidth":1,"strokeDash":[4,2,1,2],"clip":true},"encoding":{"x":{"field":"t","type":"quantitative","scale":{"domain":[0,14.25],"nice":false,"zero":false},"axis":{"values":[0,2,4,6,8,10,12,14],"title":"Time (s)"}},"y":{"field":"v","type":"quantitative","scale":{"domain":[0,1],"nice":false},"axis":{"values":[0,0.5,1],"title":null}},"color":{"datum":"With δ₂","type":"nominal","scale":{"domain":["With δ₂"],"range":["#77AC30"]},"legend":{"title":null,"symbolDash":[4,2,1,2],"symbolStrokeWidth":1.5}}}},
{"width":268,"height":50,"data":{"name":"b6"},"title":{"text":"(b)  Respiratory monitoring","orient":"bottom","frame":"group","anchor":"middle","dx":-18,"offset":33},"mark":{"type":"line","strokeWidth":2,"strokeDash":[6,3],"clip":true},"encoding":{"x":{"field":"t","type":"quantitative","scale":{"domain":[0,40],"nice":false,"zero":false},"axis":{"values":[0,5,10,15,20,25,30,35,40],"title":"Time (s)"}},"y":{"field":"v","type":"quantitative","scale":{"domain":[0,1],"nice":false},"axis":{"values":[0,0.5,1],"title":null}},"color":{"datum":"With δ₂","type":"nominal","scale":{"domain":["With δ₂"],"range":["#77AC30"]},"legend":{"title":null,"symbolDash":[6,3]}}}},
{"width":265,"height":50,"data":{"name":"c6"},"title":{"text":"(c)  User authentication","orient":"bottom","frame":"group","anchor":"middle","dx":-18,"offset":33},"mark":{"type":"line","strokeWidth":2,"strokeDash":[6,3],"clip":true},"encoding":{"x":{"field":"t","type":"quantitative","scale":{"domain":[0,5.4],"nice":false,"zero":false},"axis":{"values":[0,1,2,3,4,5],"title":"Time (s)"}},"y":{"field":"v","type":"quantitative","scale":{"domain":[0,1],"nice":false},"axis":{"values":[0,0.5,1],"title":null}},"color":{"datum":"With δ₂","type":"nominal","scale":{"domain":["With δ₂"],"range":["#77AC30"]},"legend":{"title":null,"symbolDash":[6,3],"orient":"bottom-right"}}}},
{"width":271,"height":50,"data":{"name":"d6"},"title":{"text":"(d)  Indoor localization","orient":"bottom","frame":"group","anchor":"middle","dx":-18,"offset":33},"mark":{"type":"line","strokeWidth":2,"strokeDash":[6,3],"clip":true},"encoding":{"x":{"field":"t","type":"quantitative","scale":{"domain":[0,5],"nice":false,"zero":false},"axis":{"values":[0,1,2,3,4,5],"title":"Time (s)"}},"y":{"field":"v","type":"quantitative","scale":{"domain":[0,1],"nice":false},"axis":{"values":[0,0.5,1],"title":null}},"color":{"datum":"With δ₂","type":"nominal","scale":{"domain":["With δ₂"],"range":["#77AC30"]},"legend":{"title":null,"symbolDash":[6,3]}}}}
]
}
